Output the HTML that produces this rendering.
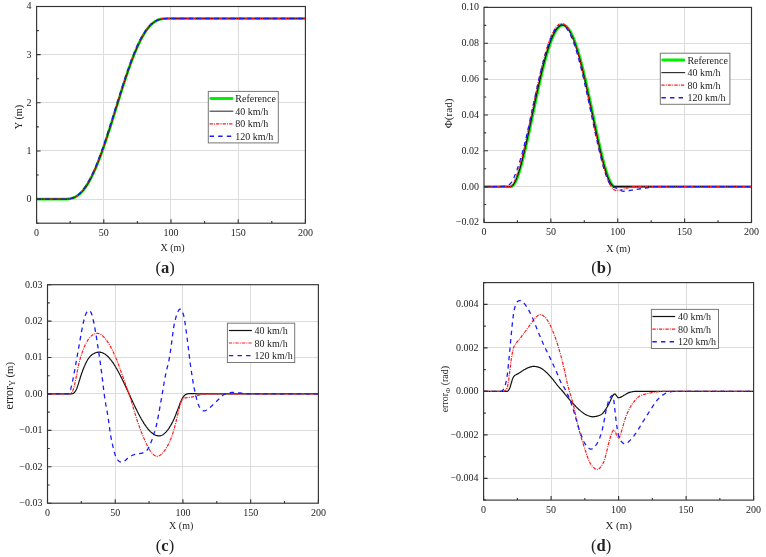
<!DOCTYPE html>
<html><head><meta charset="utf-8"><style>
html,body{margin:0;padding:0;background:#fff;}
body{width:766px;height:557px;overflow:hidden;}
svg{display:block;font-family:"Liberation Serif", serif;fill:#222;will-change:transform;}
svg text{fill:#222;}
</style></head><body>
<svg width="766" height="557" viewBox="0 0 766 557">
<rect width="766" height="557" fill="#fff"/>
<path d="M103.50,6.50V223.20M170.50,6.50V223.20M238.50,6.50V223.20M36.60,199.50H305.40M36.60,150.50H305.40M36.60,102.50H305.40M36.60,54.50H305.40" stroke="#dcdcdc" stroke-width="1" fill="none"/>
<path d="M36.6,199.1 L37.1,199.1 L37.7,199.1 L38.2,199.1 L38.8,199.1 L39.3,199.1 L39.8,199.1 L40.4,199.1 L40.9,199.1 L41.4,199.1 L42.0,199.1 L42.5,199.1 L43.1,199.1 L43.6,199.1 L44.1,199.1 L44.7,199.1 L45.2,199.1 L45.8,199.1 L46.3,199.1 L46.8,199.1 L47.4,199.1 L47.9,199.1 L48.5,199.1 L49.0,199.1 L49.5,199.1 L50.1,199.1 L50.6,199.1 L51.1,199.1 L51.7,199.1 L52.2,199.1 L52.8,199.1 L53.3,199.1 L53.8,199.1 L54.4,199.1 L54.9,199.1 L55.5,199.1 L56.0,199.1 L56.5,199.1 L57.1,199.1 L57.6,199.1 L58.1,199.1 L58.7,199.1 L59.2,199.1 L59.8,199.1 L60.3,199.1 L60.8,199.1 L61.4,199.1 L61.9,199.1 L62.5,199.1 L63.0,199.1 L63.5,199.1 L64.1,199.1 L64.6,199.1 L65.1,199.1 L65.7,199.1 L66.2,199.1 L66.8,199.1 L67.3,199.0 L67.8,199.0 L68.4,199.0 L68.9,198.9 L69.5,198.8 L70.0,198.7 L70.5,198.6 L71.1,198.5 L71.6,198.4 L72.2,198.2 L72.7,198.1 L73.2,197.9 L73.8,197.7 L74.3,197.4 L74.8,197.2 L75.4,196.9 L75.9,196.6 L76.5,196.3 L77.0,196.0 L77.5,195.6 L78.1,195.2 L78.6,194.8 L79.2,194.4 L79.7,193.9 L80.2,193.4 L80.8,192.9 L81.3,192.3 L81.8,191.8 L82.4,191.2 L82.9,190.6 L83.5,189.9 L84.0,189.2 L84.5,188.5 L85.1,187.8 L85.6,187.0 L86.2,186.3 L86.7,185.4 L87.2,184.6 L87.8,183.7 L88.3,182.8 L88.9,181.9 L89.4,181.0 L89.9,180.0 L90.5,179.0 L91.0,178.0 L91.5,176.9 L92.1,175.8 L92.6,174.7 L93.2,173.6 L93.7,172.4 L94.2,171.2 L94.8,170.0 L95.3,168.8 L95.9,167.5 L96.4,166.2 L96.9,164.9 L97.5,163.6 L98.0,162.3 L98.5,160.9 L99.1,159.5 L99.6,158.1 L100.2,156.7 L100.7,155.2 L101.2,153.8 L101.8,152.3 L102.3,150.8 L102.9,149.2 L103.4,147.7 L103.9,146.1 L104.5,144.6 L105.0,143.0 L105.6,141.4 L106.1,139.8 L106.6,138.1 L107.2,136.5 L107.7,134.9 L108.2,133.2 L108.8,131.5 L109.3,129.8 L109.9,128.2 L110.4,126.5 L110.9,124.8 L111.5,123.0 L112.0,121.3 L112.6,119.6 L113.1,117.9 L113.6,116.1 L114.2,114.4 L114.7,112.7 L115.2,110.9 L115.8,109.2 L116.3,107.4 L116.9,105.7 L117.4,104.0 L117.9,102.2 L118.5,100.5 L119.0,98.8 L119.6,97.0 L120.1,95.3 L120.6,93.6 L121.2,91.9 L121.7,90.2 L122.2,88.5 L122.8,86.8 L123.3,85.1 L123.9,83.5 L124.4,81.8 L124.9,80.2 L125.5,78.6 L126.0,76.9 L126.6,75.3 L127.1,73.7 L127.6,72.2 L128.2,70.6 L128.7,69.1 L129.3,67.5 L129.8,66.0 L130.3,64.5 L130.9,63.0 L131.4,61.6 L131.9,60.1 L132.5,58.7 L133.0,57.3 L133.6,55.9 L134.1,54.6 L134.6,53.3 L135.2,51.9 L135.7,50.7 L136.3,49.4 L136.8,48.1 L137.3,46.9 L137.9,45.7 L138.4,44.6 L138.9,43.4 L139.5,42.3 L140.0,41.2 L140.6,40.1 L141.1,39.1 L141.6,38.1 L142.2,37.1 L142.7,36.1 L143.3,35.2 L143.8,34.3 L144.3,33.4 L144.9,32.6 L145.4,31.7 L146.0,30.9 L146.5,30.2 L147.0,29.4 L147.6,28.7 L148.1,28.0 L148.6,27.4 L149.2,26.7 L149.7,26.1 L150.3,25.5 L150.8,25.0 L151.3,24.5 L151.9,24.0 L152.4,23.5 L153.0,23.0 L153.5,22.6 L154.0,22.2 L154.6,21.8 L155.1,21.5 L155.6,21.2 L156.2,20.9 L156.7,20.6 L157.3,20.3 L157.8,20.1 L158.3,19.9 L158.9,19.7 L159.4,19.5 L160.0,19.3 L160.5,19.2 L161.0,19.1 L161.6,19.0 L162.1,18.9 L162.7,18.8 L163.2,18.7 L163.7,18.7 L164.3,18.6 L164.8,18.6 L165.3,18.6 L165.9,18.6 L166.4,18.5 L167.0,18.5 L167.5,18.5 L168.0,18.5 L168.6,18.5 L169.1,18.5 L169.7,18.5 L170.2,18.5 L170.7,18.5 L171.3,18.5 L171.8,18.5 L172.3,18.5 L172.9,18.5 L173.4,18.5 L174.0,18.5 L174.5,18.5 L175.0,18.5 L175.6,18.5 L176.1,18.5 L176.7,18.5 L177.2,18.5 L177.7,18.5 L178.3,18.5 L178.8,18.5 L179.3,18.5 L179.9,18.5 L180.4,18.5 L181.0,18.5 L181.5,18.5 L182.0,18.5 L182.6,18.5 L183.1,18.5 L183.7,18.5 L184.2,18.5 L184.7,18.5 L185.3,18.5 L185.8,18.5 L186.4,18.5 L186.9,18.5 L187.4,18.5 L188.0,18.5 L188.5,18.5 L189.0,18.5 L189.6,18.5 L190.1,18.5 L190.7,18.5 L191.2,18.5 L191.7,18.5 L192.3,18.5 L192.8,18.5 L193.4,18.5 L193.9,18.5 L194.4,18.5 L195.0,18.5 L195.5,18.5 L196.0,18.5 L196.6,18.5 L197.1,18.5 L197.7,18.5 L198.2,18.5 L198.7,18.5 L199.3,18.5 L199.8,18.5 L200.4,18.5 L200.9,18.5 L201.4,18.5 L202.0,18.5 L202.5,18.5 L203.1,18.5 L203.6,18.5 L204.1,18.5 L204.7,18.5 L205.2,18.5 L205.7,18.5 L206.3,18.5 L206.8,18.5 L207.4,18.5 L207.9,18.5 L208.4,18.5 L209.0,18.5 L209.5,18.5 L210.1,18.5 L210.6,18.5 L211.1,18.5 L211.7,18.5 L212.2,18.5 L212.7,18.5 L213.3,18.5 L213.8,18.5 L214.4,18.5 L214.9,18.5 L215.4,18.5 L216.0,18.5 L216.5,18.5 L217.1,18.5 L217.6,18.5 L218.1,18.5 L218.7,18.5 L219.2,18.5 L219.8,18.5 L220.3,18.5 L220.8,18.5 L221.4,18.5 L221.9,18.5 L222.4,18.5 L223.0,18.5 L223.5,18.5 L224.1,18.5 L224.6,18.5 L225.1,18.5 L225.7,18.5 L226.2,18.5 L226.8,18.5 L227.3,18.5 L227.8,18.5 L228.4,18.5 L228.9,18.5 L229.4,18.5 L230.0,18.5 L230.5,18.5 L231.1,18.5 L231.6,18.5 L232.1,18.5 L232.7,18.5 L233.2,18.5 L233.8,18.5 L234.3,18.5 L234.8,18.5 L235.4,18.5 L235.9,18.5 L236.4,18.5 L237.0,18.5 L237.5,18.5 L238.1,18.5 L238.6,18.5 L239.1,18.5 L239.7,18.5 L240.2,18.5 L240.8,18.5 L241.3,18.5 L241.8,18.5 L242.4,18.5 L242.9,18.5 L243.5,18.5 L244.0,18.5 L244.5,18.5 L245.1,18.5 L245.6,18.5 L246.1,18.5 L246.7,18.5 L247.2,18.5 L247.8,18.5 L248.3,18.5 L248.8,18.5 L249.4,18.5 L249.9,18.5 L250.5,18.5 L251.0,18.5 L251.5,18.5 L252.1,18.5 L252.6,18.5 L253.1,18.5 L253.7,18.5 L254.2,18.5 L254.8,18.5 L255.3,18.5 L255.8,18.5 L256.4,18.5 L256.9,18.5 L257.5,18.5 L258.0,18.5 L258.5,18.5 L259.1,18.5 L259.6,18.5 L260.2,18.5 L260.7,18.5 L261.2,18.5 L261.8,18.5 L262.3,18.5 L262.8,18.5 L263.4,18.5 L263.9,18.5 L264.5,18.5 L265.0,18.5 L265.5,18.5 L266.1,18.5 L266.6,18.5 L267.2,18.5 L267.7,18.5 L268.2,18.5 L268.8,18.5 L269.3,18.5 L269.8,18.5 L270.4,18.5 L270.9,18.5 L271.5,18.5 L272.0,18.5 L272.5,18.5 L273.1,18.5 L273.6,18.5 L274.2,18.5 L274.7,18.5 L275.2,18.5 L275.8,18.5 L276.3,18.5 L276.9,18.5 L277.4,18.5 L277.9,18.5 L278.5,18.5 L279.0,18.5 L279.5,18.5 L280.1,18.5 L280.6,18.5 L281.2,18.5 L281.7,18.5 L282.2,18.5 L282.8,18.5 L283.3,18.5 L283.9,18.5 L284.4,18.5 L284.9,18.5 L285.5,18.5 L286.0,18.5 L286.5,18.5 L287.1,18.5 L287.6,18.5 L288.2,18.5 L288.7,18.5 L289.2,18.5 L289.8,18.5 L290.3,18.5 L290.9,18.5 L291.4,18.5 L291.9,18.5 L292.5,18.5 L293.0,18.5 L293.5,18.5 L294.1,18.5 L294.6,18.5 L295.2,18.5 L295.7,18.5 L296.2,18.5 L296.8,18.5 L297.3,18.5 L297.9,18.5 L298.4,18.5 L298.9,18.5 L299.5,18.5 L300.0,18.5 L300.6,18.5 L301.1,18.5 L301.6,18.5 L302.2,18.5 L302.7,18.5 L303.2,18.5 L303.8,18.5 L304.3,18.5 L304.9,18.5 L305.4,18.5" stroke="#00f000" stroke-width="2.8" fill="none" stroke-linejoin="round"/>
<path d="M36.6,199.1 L37.1,199.1 L37.7,199.1 L38.2,199.1 L38.8,199.1 L39.3,199.1 L39.8,199.1 L40.4,199.1 L40.9,199.1 L41.4,199.1 L42.0,199.1 L42.5,199.1 L43.1,199.1 L43.6,199.1 L44.1,199.1 L44.7,199.1 L45.2,199.1 L45.8,199.1 L46.3,199.1 L46.8,199.1 L47.4,199.1 L47.9,199.1 L48.5,199.1 L49.0,199.1 L49.5,199.1 L50.1,199.1 L50.6,199.1 L51.1,199.1 L51.7,199.1 L52.2,199.1 L52.8,199.1 L53.3,199.1 L53.8,199.1 L54.4,199.1 L54.9,199.1 L55.5,199.1 L56.0,199.1 L56.5,199.1 L57.1,199.1 L57.6,199.1 L58.1,199.1 L58.7,199.1 L59.2,199.1 L59.8,199.1 L60.3,199.1 L60.8,199.1 L61.4,199.1 L61.9,199.1 L62.5,199.1 L63.0,199.1 L63.5,199.1 L64.1,199.1 L64.6,199.1 L65.1,199.1 L65.7,199.1 L66.2,199.1 L66.8,199.1 L67.3,199.0 L67.8,199.0 L68.4,199.0 L68.9,198.9 L69.5,198.8 L70.0,198.7 L70.5,198.6 L71.1,198.5 L71.6,198.4 L72.2,198.2 L72.7,198.1 L73.2,197.9 L73.8,197.7 L74.3,197.4 L74.8,197.2 L75.4,196.9 L75.9,196.6 L76.5,196.3 L77.0,196.0 L77.5,195.6 L78.1,195.2 L78.6,194.8 L79.2,194.4 L79.7,193.9 L80.2,193.4 L80.8,192.9 L81.3,192.3 L81.8,191.8 L82.4,191.2 L82.9,190.6 L83.5,189.9 L84.0,189.2 L84.5,188.5 L85.1,187.8 L85.6,187.0 L86.2,186.3 L86.7,185.4 L87.2,184.6 L87.8,183.7 L88.3,182.8 L88.9,181.9 L89.4,181.0 L89.9,180.0 L90.5,179.0 L91.0,178.0 L91.5,176.9 L92.1,175.8 L92.6,174.7 L93.2,173.6 L93.7,172.4 L94.2,171.2 L94.8,170.0 L95.3,168.8 L95.9,167.5 L96.4,166.2 L96.9,164.9 L97.5,163.6 L98.0,162.3 L98.5,160.9 L99.1,159.5 L99.6,158.1 L100.2,156.7 L100.7,155.2 L101.2,153.8 L101.8,152.3 L102.3,150.8 L102.9,149.2 L103.4,147.7 L103.9,146.1 L104.5,144.6 L105.0,143.0 L105.6,141.4 L106.1,139.8 L106.6,138.1 L107.2,136.5 L107.7,134.9 L108.2,133.2 L108.8,131.5 L109.3,129.8 L109.9,128.2 L110.4,126.5 L110.9,124.8 L111.5,123.0 L112.0,121.3 L112.6,119.6 L113.1,117.9 L113.6,116.1 L114.2,114.4 L114.7,112.7 L115.2,110.9 L115.8,109.2 L116.3,107.4 L116.9,105.7 L117.4,104.0 L117.9,102.2 L118.5,100.5 L119.0,98.8 L119.6,97.0 L120.1,95.3 L120.6,93.6 L121.2,91.9 L121.7,90.2 L122.2,88.5 L122.8,86.8 L123.3,85.1 L123.9,83.5 L124.4,81.8 L124.9,80.2 L125.5,78.6 L126.0,76.9 L126.6,75.3 L127.1,73.7 L127.6,72.2 L128.2,70.6 L128.7,69.1 L129.3,67.5 L129.8,66.0 L130.3,64.5 L130.9,63.0 L131.4,61.6 L131.9,60.1 L132.5,58.7 L133.0,57.3 L133.6,55.9 L134.1,54.6 L134.6,53.3 L135.2,51.9 L135.7,50.7 L136.3,49.4 L136.8,48.1 L137.3,46.9 L137.9,45.7 L138.4,44.6 L138.9,43.4 L139.5,42.3 L140.0,41.2 L140.6,40.1 L141.1,39.1 L141.6,38.1 L142.2,37.1 L142.7,36.1 L143.3,35.2 L143.8,34.3 L144.3,33.4 L144.9,32.6 L145.4,31.7 L146.0,30.9 L146.5,30.2 L147.0,29.4 L147.6,28.7 L148.1,28.0 L148.6,27.4 L149.2,26.7 L149.7,26.1 L150.3,25.5 L150.8,25.0 L151.3,24.5 L151.9,24.0 L152.4,23.5 L153.0,23.0 L153.5,22.6 L154.0,22.2 L154.6,21.8 L155.1,21.5 L155.6,21.2 L156.2,20.9 L156.7,20.6 L157.3,20.3 L157.8,20.1 L158.3,19.9 L158.9,19.7 L159.4,19.5 L160.0,19.3 L160.5,19.2 L161.0,19.1 L161.6,19.0 L162.1,18.9 L162.7,18.8 L163.2,18.7 L163.7,18.7 L164.3,18.6 L164.8,18.6 L165.3,18.6 L165.9,18.6 L166.4,18.5 L167.0,18.5 L167.5,18.5 L168.0,18.5 L168.6,18.5 L169.1,18.5 L169.7,18.5 L170.2,18.5 L170.7,18.5 L171.3,18.5 L171.8,18.5 L172.3,18.5 L172.9,18.5 L173.4,18.5 L174.0,18.5 L174.5,18.5 L175.0,18.5 L175.6,18.5 L176.1,18.5 L176.7,18.5 L177.2,18.5 L177.7,18.5 L178.3,18.5 L178.8,18.5 L179.3,18.5 L179.9,18.5 L180.4,18.5 L181.0,18.5 L181.5,18.5 L182.0,18.5 L182.6,18.5 L183.1,18.5 L183.7,18.5 L184.2,18.5 L184.7,18.5 L185.3,18.5 L185.8,18.5 L186.4,18.5 L186.9,18.5 L187.4,18.5 L188.0,18.5 L188.5,18.5 L189.0,18.5 L189.6,18.5 L190.1,18.5 L190.7,18.5 L191.2,18.5 L191.7,18.5 L192.3,18.5 L192.8,18.5 L193.4,18.5 L193.9,18.5 L194.4,18.5 L195.0,18.5 L195.5,18.5 L196.0,18.5 L196.6,18.5 L197.1,18.5 L197.7,18.5 L198.2,18.5 L198.7,18.5 L199.3,18.5 L199.8,18.5 L200.4,18.5 L200.9,18.5 L201.4,18.5 L202.0,18.5 L202.5,18.5 L203.1,18.5 L203.6,18.5 L204.1,18.5 L204.7,18.5 L205.2,18.5 L205.7,18.5 L206.3,18.5 L206.8,18.5 L207.4,18.5 L207.9,18.5 L208.4,18.5 L209.0,18.5 L209.5,18.5 L210.1,18.5 L210.6,18.5 L211.1,18.5 L211.7,18.5 L212.2,18.5 L212.7,18.5 L213.3,18.5 L213.8,18.5 L214.4,18.5 L214.9,18.5 L215.4,18.5 L216.0,18.5 L216.5,18.5 L217.1,18.5 L217.6,18.5 L218.1,18.5 L218.7,18.5 L219.2,18.5 L219.8,18.5 L220.3,18.5 L220.8,18.5 L221.4,18.5 L221.9,18.5 L222.4,18.5 L223.0,18.5 L223.5,18.5 L224.1,18.5 L224.6,18.5 L225.1,18.5 L225.7,18.5 L226.2,18.5 L226.8,18.5 L227.3,18.5 L227.8,18.5 L228.4,18.5 L228.9,18.5 L229.4,18.5 L230.0,18.5 L230.5,18.5 L231.1,18.5 L231.6,18.5 L232.1,18.5 L232.7,18.5 L233.2,18.5 L233.8,18.5 L234.3,18.5 L234.8,18.5 L235.4,18.5 L235.9,18.5 L236.4,18.5 L237.0,18.5 L237.5,18.5 L238.1,18.5 L238.6,18.5 L239.1,18.5 L239.7,18.5 L240.2,18.5 L240.8,18.5 L241.3,18.5 L241.8,18.5 L242.4,18.5 L242.9,18.5 L243.5,18.5 L244.0,18.5 L244.5,18.5 L245.1,18.5 L245.6,18.5 L246.1,18.5 L246.7,18.5 L247.2,18.5 L247.8,18.5 L248.3,18.5 L248.8,18.5 L249.4,18.5 L249.9,18.5 L250.5,18.5 L251.0,18.5 L251.5,18.5 L252.1,18.5 L252.6,18.5 L253.1,18.5 L253.7,18.5 L254.2,18.5 L254.8,18.5 L255.3,18.5 L255.8,18.5 L256.4,18.5 L256.9,18.5 L257.5,18.5 L258.0,18.5 L258.5,18.5 L259.1,18.5 L259.6,18.5 L260.2,18.5 L260.7,18.5 L261.2,18.5 L261.8,18.5 L262.3,18.5 L262.8,18.5 L263.4,18.5 L263.9,18.5 L264.5,18.5 L265.0,18.5 L265.5,18.5 L266.1,18.5 L266.6,18.5 L267.2,18.5 L267.7,18.5 L268.2,18.5 L268.8,18.5 L269.3,18.5 L269.8,18.5 L270.4,18.5 L270.9,18.5 L271.5,18.5 L272.0,18.5 L272.5,18.5 L273.1,18.5 L273.6,18.5 L274.2,18.5 L274.7,18.5 L275.2,18.5 L275.8,18.5 L276.3,18.5 L276.9,18.5 L277.4,18.5 L277.9,18.5 L278.5,18.5 L279.0,18.5 L279.5,18.5 L280.1,18.5 L280.6,18.5 L281.2,18.5 L281.7,18.5 L282.2,18.5 L282.8,18.5 L283.3,18.5 L283.9,18.5 L284.4,18.5 L284.9,18.5 L285.5,18.5 L286.0,18.5 L286.5,18.5 L287.1,18.5 L287.6,18.5 L288.2,18.5 L288.7,18.5 L289.2,18.5 L289.8,18.5 L290.3,18.5 L290.9,18.5 L291.4,18.5 L291.9,18.5 L292.5,18.5 L293.0,18.5 L293.5,18.5 L294.1,18.5 L294.6,18.5 L295.2,18.5 L295.7,18.5 L296.2,18.5 L296.8,18.5 L297.3,18.5 L297.9,18.5 L298.4,18.5 L298.9,18.5 L299.5,18.5 L300.0,18.5 L300.6,18.5 L301.1,18.5 L301.6,18.5 L302.2,18.5 L302.7,18.5 L303.2,18.5 L303.8,18.5 L304.3,18.5 L304.9,18.5 L305.4,18.5" stroke="#111" stroke-width="1.2" fill="none"/>
<path d="M36.6,199.1 L37.1,199.1 L37.7,199.1 L38.2,199.1 L38.8,199.1 L39.3,199.1 L39.8,199.1 L40.4,199.1 L40.9,199.1 L41.4,199.1 L42.0,199.1 L42.5,199.1 L43.1,199.1 L43.6,199.1 L44.1,199.1 L44.7,199.1 L45.2,199.1 L45.8,199.1 L46.3,199.1 L46.8,199.1 L47.4,199.1 L47.9,199.1 L48.5,199.1 L49.0,199.1 L49.5,199.1 L50.1,199.1 L50.6,199.1 L51.1,199.1 L51.7,199.1 L52.2,199.1 L52.8,199.1 L53.3,199.1 L53.8,199.1 L54.4,199.1 L54.9,199.1 L55.5,199.1 L56.0,199.1 L56.5,199.1 L57.1,199.1 L57.6,199.1 L58.1,199.1 L58.7,199.1 L59.2,199.1 L59.8,199.1 L60.3,199.1 L60.8,199.1 L61.4,199.1 L61.9,199.1 L62.5,199.1 L63.0,199.1 L63.5,199.1 L64.1,199.1 L64.6,199.1 L65.1,199.1 L65.7,199.1 L66.2,199.1 L66.8,199.0 L67.3,199.0 L67.8,199.0 L68.4,198.9 L68.9,198.8 L69.5,198.8 L70.0,198.7 L70.5,198.5 L71.1,198.4 L71.6,198.3 L72.2,198.1 L72.7,197.9 L73.2,197.7 L73.8,197.5 L74.3,197.2 L74.8,197.0 L75.4,196.7 L75.9,196.4 L76.5,196.0 L77.0,195.7 L77.5,195.3 L78.1,194.9 L78.6,194.5 L79.2,194.0 L79.7,193.5 L80.2,193.0 L80.8,192.5 L81.3,191.9 L81.8,191.3 L82.4,190.7 L82.9,190.1 L83.5,189.4 L84.0,188.7 L84.5,188.0 L85.1,187.2 L85.6,186.5 L86.2,185.7 L86.7,184.8 L87.2,184.0 L87.8,183.1 L88.3,182.2 L88.9,181.2 L89.4,180.2 L89.9,179.2 L90.5,178.2 L91.0,177.2 L91.5,176.1 L92.1,175.0 L92.6,173.9 L93.2,172.7 L93.7,171.5 L94.2,170.3 L94.8,169.1 L95.3,167.8 L95.9,166.6 L96.4,165.3 L96.9,164.0 L97.5,162.6 L98.0,161.3 L98.5,159.9 L99.1,158.5 L99.6,157.0 L100.2,155.6 L100.7,154.1 L101.2,152.6 L101.8,151.1 L102.3,149.6 L102.9,148.1 L103.4,146.5 L103.9,145.0 L104.5,143.4 L105.0,141.8 L105.6,140.2 L106.1,138.6 L106.6,136.9 L107.2,135.3 L107.7,133.6 L108.2,131.9 L108.8,130.3 L109.3,128.6 L109.9,126.9 L110.4,125.2 L110.9,123.5 L111.5,121.8 L112.0,120.0 L112.6,118.3 L113.1,116.6 L113.6,114.8 L114.2,113.1 L114.7,111.4 L115.2,109.6 L115.8,107.9 L116.3,106.1 L116.9,104.4 L117.4,102.7 L117.9,100.9 L118.5,99.2 L119.0,97.5 L119.6,95.8 L120.1,94.0 L120.6,92.3 L121.2,90.6 L121.7,88.9 L122.2,87.2 L122.8,85.6 L123.3,83.9 L123.9,82.2 L124.4,80.6 L124.9,79.0 L125.5,77.3 L126.0,75.7 L126.6,74.1 L127.1,72.6 L127.6,71.0 L128.2,69.4 L128.7,67.9 L129.3,66.4 L129.8,64.9 L130.3,63.4 L130.9,61.9 L131.4,60.5 L131.9,59.1 L132.5,57.7 L133.0,56.3 L133.6,54.9 L134.1,53.6 L134.6,52.3 L135.2,51.0 L135.7,49.7 L136.3,48.5 L136.8,47.2 L137.3,46.0 L137.9,44.9 L138.4,43.7 L138.9,42.6 L139.5,41.5 L140.0,40.4 L140.6,39.4 L141.1,38.3 L141.6,37.3 L142.2,36.4 L142.7,35.4 L143.3,34.5 L143.8,33.6 L144.3,32.8 L144.9,31.9 L145.4,31.1 L146.0,30.4 L146.5,29.6 L147.0,28.9 L147.6,28.2 L148.1,27.5 L148.6,26.9 L149.2,26.3 L149.7,25.7 L150.3,25.1 L150.8,24.6 L151.3,24.1 L151.9,23.6 L152.4,23.2 L153.0,22.7 L153.5,22.3 L154.0,21.9 L154.6,21.6 L155.1,21.3 L155.6,20.9 L156.2,20.7 L156.7,20.4 L157.3,20.2 L157.8,19.9 L158.3,19.7 L158.9,19.5 L159.4,19.4 L160.0,19.2 L160.5,19.1 L161.0,19.0 L161.6,18.9 L162.1,18.8 L162.7,18.7 L163.2,18.7 L163.7,18.6 L164.3,18.6 L164.8,18.6 L165.3,18.6 L165.9,18.6 L166.4,18.5 L167.0,18.5 L167.5,18.5 L168.0,18.5 L168.6,18.5 L169.1,18.5 L169.7,18.5 L170.2,18.5 L170.7,18.5 L171.3,18.5 L171.8,18.5 L172.3,18.5 L172.9,18.5 L173.4,18.5 L174.0,18.5 L174.5,18.5 L175.0,18.5 L175.6,18.5 L176.1,18.5 L176.7,18.5 L177.2,18.5 L177.7,18.5 L178.3,18.5 L178.8,18.5 L179.3,18.5 L179.9,18.5 L180.4,18.5 L181.0,18.5 L181.5,18.5 L182.0,18.5 L182.6,18.5 L183.1,18.5 L183.7,18.5 L184.2,18.5 L184.7,18.5 L185.3,18.5 L185.8,18.5 L186.4,18.5 L186.9,18.5 L187.4,18.5 L188.0,18.5 L188.5,18.5 L189.0,18.5 L189.6,18.5 L190.1,18.5 L190.7,18.5 L191.2,18.5 L191.7,18.5 L192.3,18.5 L192.8,18.5 L193.4,18.5 L193.9,18.5 L194.4,18.5 L195.0,18.5 L195.5,18.5 L196.0,18.5 L196.6,18.5 L197.1,18.5 L197.7,18.5 L198.2,18.5 L198.7,18.5 L199.3,18.5 L199.8,18.5 L200.4,18.5 L200.9,18.5 L201.4,18.5 L202.0,18.5 L202.5,18.5 L203.1,18.5 L203.6,18.5 L204.1,18.5 L204.7,18.5 L205.2,18.5 L205.7,18.5 L206.3,18.5 L206.8,18.5 L207.4,18.5 L207.9,18.5 L208.4,18.5 L209.0,18.5 L209.5,18.5 L210.1,18.5 L210.6,18.5 L211.1,18.5 L211.7,18.5 L212.2,18.5 L212.7,18.5 L213.3,18.5 L213.8,18.5 L214.4,18.5 L214.9,18.5 L215.4,18.5 L216.0,18.5 L216.5,18.5 L217.1,18.5 L217.6,18.5 L218.1,18.5 L218.7,18.5 L219.2,18.5 L219.8,18.5 L220.3,18.5 L220.8,18.5 L221.4,18.5 L221.9,18.5 L222.4,18.5 L223.0,18.5 L223.5,18.5 L224.1,18.5 L224.6,18.5 L225.1,18.5 L225.7,18.5 L226.2,18.5 L226.8,18.5 L227.3,18.5 L227.8,18.5 L228.4,18.5 L228.9,18.5 L229.4,18.5 L230.0,18.5 L230.5,18.5 L231.1,18.5 L231.6,18.5 L232.1,18.5 L232.7,18.5 L233.2,18.5 L233.8,18.5 L234.3,18.5 L234.8,18.5 L235.4,18.5 L235.9,18.5 L236.4,18.5 L237.0,18.5 L237.5,18.5 L238.1,18.5 L238.6,18.5 L239.1,18.5 L239.7,18.5 L240.2,18.5 L240.8,18.5 L241.3,18.5 L241.8,18.5 L242.4,18.5 L242.9,18.5 L243.5,18.5 L244.0,18.5 L244.5,18.5 L245.1,18.5 L245.6,18.5 L246.1,18.5 L246.7,18.5 L247.2,18.5 L247.8,18.5 L248.3,18.5 L248.8,18.5 L249.4,18.5 L249.9,18.5 L250.5,18.5 L251.0,18.5 L251.5,18.5 L252.1,18.5 L252.6,18.5 L253.1,18.5 L253.7,18.5 L254.2,18.5 L254.8,18.5 L255.3,18.5 L255.8,18.5 L256.4,18.5 L256.9,18.5 L257.5,18.5 L258.0,18.5 L258.5,18.5 L259.1,18.5 L259.6,18.5 L260.2,18.5 L260.7,18.5 L261.2,18.5 L261.8,18.5 L262.3,18.5 L262.8,18.5 L263.4,18.5 L263.9,18.5 L264.5,18.5 L265.0,18.5 L265.5,18.5 L266.1,18.5 L266.6,18.5 L267.2,18.5 L267.7,18.5 L268.2,18.5 L268.8,18.5 L269.3,18.5 L269.8,18.5 L270.4,18.5 L270.9,18.5 L271.5,18.5 L272.0,18.5 L272.5,18.5 L273.1,18.5 L273.6,18.5 L274.2,18.5 L274.7,18.5 L275.2,18.5 L275.8,18.5 L276.3,18.5 L276.9,18.5 L277.4,18.5 L277.9,18.5 L278.5,18.5 L279.0,18.5 L279.5,18.5 L280.1,18.5 L280.6,18.5 L281.2,18.5 L281.7,18.5 L282.2,18.5 L282.8,18.5 L283.3,18.5 L283.9,18.5 L284.4,18.5 L284.9,18.5 L285.5,18.5 L286.0,18.5 L286.5,18.5 L287.1,18.5 L287.6,18.5 L288.2,18.5 L288.7,18.5 L289.2,18.5 L289.8,18.5 L290.3,18.5 L290.9,18.5 L291.4,18.5 L291.9,18.5 L292.5,18.5 L293.0,18.5 L293.5,18.5 L294.1,18.5 L294.6,18.5 L295.2,18.5 L295.7,18.5 L296.2,18.5 L296.8,18.5 L297.3,18.5 L297.9,18.5 L298.4,18.5 L298.9,18.5 L299.5,18.5 L300.0,18.5 L300.6,18.5 L301.1,18.5 L301.6,18.5 L302.2,18.5 L302.7,18.5 L303.2,18.5 L303.8,18.5 L304.3,18.5 L304.9,18.5 L305.4,18.5" stroke="#ff1a1a" stroke-width="1.2" fill="none" stroke-dasharray="3.3,1.1,1.0,1.1"/>
<path d="M36.6,199.1 L37.1,199.1 L37.7,199.1 L38.2,199.1 L38.8,199.1 L39.3,199.1 L39.8,199.1 L40.4,199.1 L40.9,199.1 L41.4,199.1 L42.0,199.1 L42.5,199.1 L43.1,199.1 L43.6,199.1 L44.1,199.1 L44.7,199.1 L45.2,199.1 L45.8,199.1 L46.3,199.1 L46.8,199.1 L47.4,199.1 L47.9,199.1 L48.5,199.1 L49.0,199.1 L49.5,199.1 L50.1,199.1 L50.6,199.1 L51.1,199.1 L51.7,199.1 L52.2,199.1 L52.8,199.1 L53.3,199.1 L53.8,199.1 L54.4,199.1 L54.9,199.1 L55.5,199.1 L56.0,199.1 L56.5,199.1 L57.1,199.1 L57.6,199.1 L58.1,199.1 L58.7,199.1 L59.2,199.1 L59.8,199.1 L60.3,199.1 L60.8,199.1 L61.4,199.1 L61.9,199.1 L62.5,199.1 L63.0,199.1 L63.5,199.1 L64.1,199.1 L64.6,199.1 L65.1,199.1 L65.7,199.1 L66.2,199.1 L66.8,199.0 L67.3,199.0 L67.8,198.9 L68.4,198.9 L68.9,198.8 L69.5,198.7 L70.0,198.6 L70.5,198.5 L71.1,198.3 L71.6,198.2 L72.2,198.0 L72.7,197.8 L73.2,197.6 L73.8,197.4 L74.3,197.1 L74.8,196.8 L75.4,196.5 L75.9,196.2 L76.5,195.9 L77.0,195.5 L77.5,195.1 L78.1,194.7 L78.6,194.2 L79.2,193.8 L79.7,193.3 L80.2,192.8 L80.8,192.2 L81.3,191.6 L81.8,191.0 L82.4,190.4 L82.9,189.8 L83.5,189.1 L84.0,188.4 L84.5,187.6 L85.1,186.9 L85.6,186.1 L86.2,185.2 L86.7,184.4 L87.2,183.5 L87.8,182.6 L88.3,181.7 L88.9,180.7 L89.4,179.7 L89.9,178.7 L90.5,177.7 L91.0,176.6 L91.5,175.5 L92.1,174.4 L92.6,173.3 L93.2,172.1 L93.7,170.9 L94.2,169.7 L94.8,168.5 L95.3,167.2 L95.9,165.9 L96.4,164.6 L96.9,163.3 L97.5,161.9 L98.0,160.6 L98.5,159.2 L99.1,157.8 L99.6,156.3 L100.2,154.9 L100.7,153.4 L101.2,151.9 L101.8,150.4 L102.3,148.9 L102.9,147.3 L103.4,145.8 L103.9,144.2 L104.5,142.6 L105.0,141.0 L105.6,139.4 L106.1,137.7 L106.6,136.1 L107.2,134.4 L107.7,132.8 L108.2,131.1 L108.8,129.4 L109.3,127.7 L109.9,126.0 L110.4,124.3 L110.9,122.6 L111.5,120.9 L112.0,119.2 L112.6,117.4 L113.1,115.7 L113.6,114.0 L114.2,112.2 L114.7,110.5 L115.2,108.8 L115.8,107.0 L116.3,105.3 L116.9,103.5 L117.4,101.8 L117.9,100.1 L118.5,98.3 L119.0,96.6 L119.6,94.9 L120.1,93.2 L120.6,91.5 L121.2,89.8 L121.7,88.1 L122.2,86.4 L122.8,84.7 L123.3,83.1 L123.9,81.4 L124.4,79.8 L124.9,78.2 L125.5,76.5 L126.0,74.9 L126.6,73.3 L127.1,71.8 L127.6,70.2 L128.2,68.7 L128.7,67.1 L129.3,65.6 L129.8,64.1 L130.3,62.7 L130.9,61.2 L131.4,59.8 L131.9,58.4 L132.5,57.0 L133.0,55.6 L133.6,54.3 L134.1,52.9 L134.6,51.6 L135.2,50.3 L135.7,49.1 L136.3,47.8 L136.8,46.6 L137.3,45.4 L137.9,44.3 L138.4,43.1 L138.9,42.0 L139.5,40.9 L140.0,39.9 L140.6,38.8 L141.1,37.8 L141.6,36.9 L142.2,35.9 L142.7,35.0 L143.3,34.1 L143.8,33.2 L144.3,32.4 L144.9,31.5 L145.4,30.7 L146.0,30.0 L146.5,29.2 L147.0,28.5 L147.6,27.9 L148.1,27.2 L148.6,26.6 L149.2,26.0 L149.7,25.4 L150.3,24.9 L150.8,24.3 L151.3,23.8 L151.9,23.4 L152.4,22.9 L153.0,22.5 L153.5,22.1 L154.0,21.8 L154.6,21.4 L155.1,21.1 L155.6,20.8 L156.2,20.5 L156.7,20.3 L157.3,20.0 L157.8,19.8 L158.3,19.6 L158.9,19.5 L159.4,19.3 L160.0,19.2 L160.5,19.1 L161.0,18.9 L161.6,18.9 L162.1,18.8 L162.7,18.7 L163.2,18.7 L163.7,18.6 L164.3,18.6 L164.8,18.6 L165.3,18.6 L165.9,18.5 L166.4,18.5 L167.0,18.5 L167.5,18.5 L168.0,18.5 L168.6,18.5 L169.1,18.5 L169.7,18.5 L170.2,18.5 L170.7,18.5 L171.3,18.5 L171.8,18.5 L172.3,18.5 L172.9,18.5 L173.4,18.5 L174.0,18.5 L174.5,18.5 L175.0,18.5 L175.6,18.5 L176.1,18.5 L176.7,18.5 L177.2,18.5 L177.7,18.5 L178.3,18.5 L178.8,18.5 L179.3,18.5 L179.9,18.5 L180.4,18.5 L181.0,18.5 L181.5,18.5 L182.0,18.5 L182.6,18.5 L183.1,18.5 L183.7,18.5 L184.2,18.5 L184.7,18.5 L185.3,18.5 L185.8,18.5 L186.4,18.5 L186.9,18.5 L187.4,18.5 L188.0,18.5 L188.5,18.5 L189.0,18.5 L189.6,18.5 L190.1,18.5 L190.7,18.5 L191.2,18.5 L191.7,18.5 L192.3,18.5 L192.8,18.5 L193.4,18.5 L193.9,18.5 L194.4,18.5 L195.0,18.5 L195.5,18.5 L196.0,18.5 L196.6,18.5 L197.1,18.5 L197.7,18.5 L198.2,18.5 L198.7,18.5 L199.3,18.5 L199.8,18.5 L200.4,18.5 L200.9,18.5 L201.4,18.5 L202.0,18.5 L202.5,18.5 L203.1,18.5 L203.6,18.5 L204.1,18.5 L204.7,18.5 L205.2,18.5 L205.7,18.5 L206.3,18.5 L206.8,18.5 L207.4,18.5 L207.9,18.5 L208.4,18.5 L209.0,18.5 L209.5,18.5 L210.1,18.5 L210.6,18.5 L211.1,18.5 L211.7,18.5 L212.2,18.5 L212.7,18.5 L213.3,18.5 L213.8,18.5 L214.4,18.5 L214.9,18.5 L215.4,18.5 L216.0,18.5 L216.5,18.5 L217.1,18.5 L217.6,18.5 L218.1,18.5 L218.7,18.5 L219.2,18.5 L219.8,18.5 L220.3,18.5 L220.8,18.5 L221.4,18.5 L221.9,18.5 L222.4,18.5 L223.0,18.5 L223.5,18.5 L224.1,18.5 L224.6,18.5 L225.1,18.5 L225.7,18.5 L226.2,18.5 L226.8,18.5 L227.3,18.5 L227.8,18.5 L228.4,18.5 L228.9,18.5 L229.4,18.5 L230.0,18.5 L230.5,18.5 L231.1,18.5 L231.6,18.5 L232.1,18.5 L232.7,18.5 L233.2,18.5 L233.8,18.5 L234.3,18.5 L234.8,18.5 L235.4,18.5 L235.9,18.5 L236.4,18.5 L237.0,18.5 L237.5,18.5 L238.1,18.5 L238.6,18.5 L239.1,18.5 L239.7,18.5 L240.2,18.5 L240.8,18.5 L241.3,18.5 L241.8,18.5 L242.4,18.5 L242.9,18.5 L243.5,18.5 L244.0,18.5 L244.5,18.5 L245.1,18.5 L245.6,18.5 L246.1,18.5 L246.7,18.5 L247.2,18.5 L247.8,18.5 L248.3,18.5 L248.8,18.5 L249.4,18.5 L249.9,18.5 L250.5,18.5 L251.0,18.5 L251.5,18.5 L252.1,18.5 L252.6,18.5 L253.1,18.5 L253.7,18.5 L254.2,18.5 L254.8,18.5 L255.3,18.5 L255.8,18.5 L256.4,18.5 L256.9,18.5 L257.5,18.5 L258.0,18.5 L258.5,18.5 L259.1,18.5 L259.6,18.5 L260.2,18.5 L260.7,18.5 L261.2,18.5 L261.8,18.5 L262.3,18.5 L262.8,18.5 L263.4,18.5 L263.9,18.5 L264.5,18.5 L265.0,18.5 L265.5,18.5 L266.1,18.5 L266.6,18.5 L267.2,18.5 L267.7,18.5 L268.2,18.5 L268.8,18.5 L269.3,18.5 L269.8,18.5 L270.4,18.5 L270.9,18.5 L271.5,18.5 L272.0,18.5 L272.5,18.5 L273.1,18.5 L273.6,18.5 L274.2,18.5 L274.7,18.5 L275.2,18.5 L275.8,18.5 L276.3,18.5 L276.9,18.5 L277.4,18.5 L277.9,18.5 L278.5,18.5 L279.0,18.5 L279.5,18.5 L280.1,18.5 L280.6,18.5 L281.2,18.5 L281.7,18.5 L282.2,18.5 L282.8,18.5 L283.3,18.5 L283.9,18.5 L284.4,18.5 L284.9,18.5 L285.5,18.5 L286.0,18.5 L286.5,18.5 L287.1,18.5 L287.6,18.5 L288.2,18.5 L288.7,18.5 L289.2,18.5 L289.8,18.5 L290.3,18.5 L290.9,18.5 L291.4,18.5 L291.9,18.5 L292.5,18.5 L293.0,18.5 L293.5,18.5 L294.1,18.5 L294.6,18.5 L295.2,18.5 L295.7,18.5 L296.2,18.5 L296.8,18.5 L297.3,18.5 L297.9,18.5 L298.4,18.5 L298.9,18.5 L299.5,18.5 L300.0,18.5 L300.6,18.5 L301.1,18.5 L301.6,18.5 L302.2,18.5 L302.7,18.5 L303.2,18.5 L303.8,18.5 L304.3,18.5 L304.9,18.5 L305.4,18.5" stroke="#1a1aff" stroke-width="1.3" fill="none" stroke-dasharray="4.4,4.0"/>
<path d="M36.60,223.20v-4M103.80,223.20v-4M171.00,223.20v-4M238.20,223.20v-4M305.40,223.20v-4M70.20,223.20v-2.2M137.40,223.20v-2.2M204.60,223.20v-2.2M271.80,223.20v-2.2M36.60,199.12h4M36.60,150.97h4M36.60,102.81h4M36.60,54.66h4M36.60,6.50h4M36.60,223.20h2.2M36.60,175.04h2.2M36.60,126.89h2.2M36.60,78.73h2.2M36.60,30.58h2.2" stroke="#333" stroke-width="1.1" fill="none"/>
<rect x="36.60" y="6.50" width="268.80" height="216.70" stroke="#333" stroke-width="1.15" fill="none"/>
<text x="36.60" y="236.00" font-size="10" text-anchor="middle" >0</text>
<text x="103.80" y="236.00" font-size="10" text-anchor="middle" >50</text>
<text x="171.00" y="236.00" font-size="10" text-anchor="middle" >100</text>
<text x="238.20" y="236.00" font-size="10" text-anchor="middle" >150</text>
<text x="305.40" y="236.00" font-size="10" text-anchor="middle" >200</text>
<text x="31.60" y="202.02" font-size="10" text-anchor="end" >0</text>
<text x="31.60" y="153.87" font-size="10" text-anchor="end" >1</text>
<text x="31.60" y="105.71" font-size="10" text-anchor="end" >2</text>
<text x="31.60" y="57.56" font-size="10" text-anchor="end" >3</text>
<text x="31.60" y="9.40" font-size="10" text-anchor="end" >4</text>
<rect x="208.30" y="91.40" width="70.00" height="51.50" fill="#fff" stroke="#777" stroke-width="1"/>
<path d="M210.90,98.50H232.00" stroke="#00f000" stroke-width="2.9" stroke-linecap="round" fill="none"/>
<text x="235.30" y="102.00" font-size="10" text-anchor="start" >Reference</text>
<path d="M209.60,111.20H233.30" stroke="#444" stroke-width="1.2" fill="none"/>
<text x="235.30" y="114.70" font-size="10" text-anchor="start" >40 km/h</text>
<path d="M209.60,123.80H233.30" stroke="#ff1a1a" stroke-width="1.2" fill="none" stroke-dasharray="3.3,1.1,1.0,1.1"/>
<text x="235.30" y="127.30" font-size="10" text-anchor="start" >80 km/h</text>
<path d="M209.60,136.30h21.6" stroke="#1a1aff" stroke-width="1.4" stroke-dasharray="4.4,4.2" fill="none"/>
<text x="235.30" y="139.80" font-size="10" text-anchor="start" >120 km/h</text>
<path d="M550.50,7.40V222.50M617.50,7.40V222.50M684.50,7.40V222.50M484.00,186.50H751.50M484.00,150.50H751.50M484.00,114.50H751.50M484.00,79.50H751.50M484.00,43.50H751.50" stroke="#dcdcdc" stroke-width="1" fill="none"/>
<path d="M484.0,186.7 L484.5,186.7 L485.1,186.7 L485.6,186.7 L486.1,186.7 L486.7,186.7 L487.2,186.7 L487.8,186.7 L488.3,186.7 L488.8,186.7 L489.4,186.7 L489.9,186.7 L490.4,186.7 L491.0,186.7 L491.5,186.7 L492.0,186.7 L492.6,186.7 L493.1,186.7 L493.6,186.7 L494.2,186.7 L494.7,186.7 L495.3,186.7 L495.8,186.7 L496.3,186.7 L496.9,186.7 L497.4,186.7 L497.9,186.7 L498.5,186.7 L499.0,186.7 L499.5,186.7 L500.1,186.7 L500.6,186.7 L501.2,186.7 L501.7,186.7 L502.2,186.7 L502.8,186.7 L503.3,186.7 L503.8,186.7 L504.4,186.7 L504.9,186.7 L505.4,186.7 L506.0,186.7 L506.5,186.7 L507.1,186.7 L507.6,186.7 L508.1,186.7 L508.7,186.7 L509.2,186.7 L509.7,186.7 L510.3,186.7 L510.8,186.6 L511.3,186.6 L511.9,186.4 L512.4,186.0 L512.9,185.6 L513.5,185.0 L514.0,184.3 L514.6,183.5 L515.1,182.5 L515.6,181.5 L516.2,180.4 L516.7,179.2 L517.2,177.9 L517.8,176.5 L518.3,175.0 L518.8,173.4 L519.4,171.8 L519.9,170.0 L520.5,168.3 L521.0,166.4 L521.5,164.5 L522.1,162.5 L522.6,160.5 L523.1,158.4 L523.7,156.2 L524.2,154.0 L524.7,151.8 L525.3,149.5 L525.8,147.2 L526.3,144.8 L526.9,142.5 L527.4,140.0 L528.0,137.6 L528.5,135.1 L529.0,132.7 L529.6,130.2 L530.1,127.6 L530.6,125.1 L531.2,122.6 L531.7,120.0 L532.2,117.5 L532.8,114.9 L533.3,112.3 L533.9,109.8 L534.4,107.2 L534.9,104.7 L535.5,102.2 L536.0,99.6 L536.5,97.1 L537.1,94.6 L537.6,92.2 L538.1,89.7 L538.7,87.3 L539.2,84.9 L539.8,82.5 L540.3,80.1 L540.8,77.8 L541.4,75.5 L541.9,73.3 L542.4,71.0 L543.0,68.9 L543.5,66.7 L544.0,64.6 L544.6,62.5 L545.1,60.5 L545.6,58.5 L546.2,56.6 L546.7,54.7 L547.3,52.9 L547.8,51.1 L548.3,49.3 L548.9,47.7 L549.4,46.0 L549.9,44.4 L550.5,42.9 L551.0,41.5 L551.5,40.0 L552.1,38.7 L552.6,37.4 L553.2,36.2 L553.7,35.0 L554.2,33.9 L554.8,32.9 L555.3,31.9 L555.8,31.0 L556.4,30.1 L556.9,29.3 L557.4,28.6 L558.0,27.9 L558.5,27.4 L559.1,26.8 L559.6,26.4 L560.1,26.0 L560.7,25.7 L561.2,25.4 L561.7,25.2 L562.3,25.1 L562.8,25.1 L563.3,25.1 L563.9,25.2 L564.4,25.3 L564.9,25.6 L565.5,25.9 L566.0,26.2 L566.6,26.6 L567.1,27.1 L567.6,27.7 L568.2,28.3 L568.7,29.0 L569.2,29.8 L569.8,30.6 L570.3,31.5 L570.8,32.5 L571.4,33.5 L571.9,34.6 L572.5,35.7 L573.0,36.9 L573.5,38.2 L574.1,39.5 L574.6,40.9 L575.1,42.3 L575.7,43.8 L576.2,45.4 L576.7,47.0 L577.3,48.6 L577.8,50.4 L578.3,52.1 L578.9,53.9 L579.4,55.8 L580.0,57.7 L580.5,59.7 L581.0,61.7 L581.6,63.7 L582.1,65.8 L582.6,68.0 L583.2,70.1 L583.7,72.4 L584.2,74.6 L584.8,76.9 L585.3,79.2 L585.9,81.5 L586.4,83.9 L586.9,86.3 L587.5,88.7 L588.0,91.2 L588.5,93.6 L589.1,96.1 L589.6,98.6 L590.1,101.1 L590.7,103.7 L591.2,106.2 L591.8,108.7 L592.3,111.3 L592.8,113.9 L593.4,116.4 L593.9,119.0 L594.4,121.5 L595.0,124.1 L595.5,126.6 L596.0,129.1 L596.6,131.6 L597.1,134.1 L597.6,136.6 L598.2,139.0 L598.7,141.5 L599.3,143.9 L599.8,146.2 L600.3,148.6 L600.9,150.9 L601.4,153.1 L601.9,155.3 L602.5,157.5 L603.0,159.6 L603.5,161.7 L604.1,163.7 L604.6,165.6 L605.2,167.5 L605.7,169.3 L606.2,171.1 L606.8,172.7 L607.3,174.3 L607.8,175.9 L608.4,177.3 L608.9,178.6 L609.4,179.9 L610.0,181.1 L610.5,182.1 L611.0,183.1 L611.6,183.9 L612.1,184.7 L612.7,185.3 L613.2,185.8 L613.7,186.2 L614.3,186.5 L614.8,186.6 L615.3,186.7 L615.9,186.7 L616.4,186.7 L616.9,186.7 L617.5,186.7 L618.0,186.7 L618.6,186.7 L619.1,186.7 L619.6,186.7 L620.2,186.7 L620.7,186.7 L621.2,186.7 L621.8,186.7 L622.3,186.7 L622.8,186.7 L623.4,186.7 L623.9,186.7 L624.5,186.7 L625.0,186.7 L625.5,186.7 L626.1,186.7 L626.6,186.7 L627.1,186.7 L627.7,186.7 L628.2,186.7 L628.7,186.7 L629.3,186.7 L629.8,186.7 L630.3,186.7 L630.9,186.7 L631.4,186.7 L632.0,186.7 L632.5,186.7 L633.0,186.7 L633.6,186.7 L634.1,186.7 L634.6,186.7 L635.2,186.7 L635.7,186.7 L636.2,186.7 L636.8,186.7 L637.3,186.7 L637.9,186.7 L638.4,186.7 L638.9,186.7 L639.5,186.7 L640.0,186.7 L640.5,186.7 L641.1,186.7 L641.6,186.7 L642.1,186.7 L642.7,186.7 L643.2,186.7 L643.7,186.7 L644.3,186.7 L644.8,186.7 L645.4,186.7 L645.9,186.7 L646.4,186.7 L647.0,186.7 L647.5,186.7 L648.0,186.7 L648.6,186.7 L649.1,186.7 L649.6,186.7 L650.2,186.7 L650.7,186.7 L651.3,186.7 L651.8,186.7 L652.3,186.7 L652.9,186.7 L653.4,186.7 L653.9,186.7 L654.5,186.7 L655.0,186.7 L655.5,186.7 L656.1,186.7 L656.6,186.7 L657.2,186.7 L657.7,186.7 L658.2,186.7 L658.8,186.7 L659.3,186.7 L659.8,186.7 L660.4,186.7 L660.9,186.7 L661.4,186.7 L662.0,186.7 L662.5,186.7 L663.0,186.7 L663.6,186.7 L664.1,186.7 L664.7,186.7 L665.2,186.7 L665.7,186.7 L666.3,186.7 L666.8,186.7 L667.3,186.7 L667.9,186.7 L668.4,186.7 L668.9,186.7 L669.5,186.7 L670.0,186.7 L670.6,186.7 L671.1,186.7 L671.6,186.7 L672.2,186.7 L672.7,186.7 L673.2,186.7 L673.8,186.7 L674.3,186.7 L674.8,186.7 L675.4,186.7 L675.9,186.7 L676.4,186.7 L677.0,186.7 L677.5,186.7 L678.1,186.7 L678.6,186.7 L679.1,186.7 L679.7,186.7 L680.2,186.7 L680.7,186.7 L681.3,186.7 L681.8,186.7 L682.3,186.7 L682.9,186.7 L683.4,186.7 L684.0,186.7 L684.5,186.7 L685.0,186.7 L685.6,186.7 L686.1,186.7 L686.6,186.7 L687.2,186.7 L687.7,186.7 L688.2,186.7 L688.8,186.7 L689.3,186.7 L689.9,186.7 L690.4,186.7 L690.9,186.7 L691.5,186.7 L692.0,186.7 L692.5,186.7 L693.1,186.7 L693.6,186.7 L694.1,186.7 L694.7,186.7 L695.2,186.7 L695.7,186.7 L696.3,186.7 L696.8,186.7 L697.4,186.7 L697.9,186.7 L698.4,186.7 L699.0,186.7 L699.5,186.7 L700.0,186.7 L700.6,186.7 L701.1,186.7 L701.6,186.7 L702.2,186.7 L702.7,186.7 L703.3,186.7 L703.8,186.7 L704.3,186.7 L704.9,186.7 L705.4,186.7 L705.9,186.7 L706.5,186.7 L707.0,186.7 L707.5,186.7 L708.1,186.7 L708.6,186.7 L709.2,186.7 L709.7,186.7 L710.2,186.7 L710.8,186.7 L711.3,186.7 L711.8,186.7 L712.4,186.7 L712.9,186.7 L713.4,186.7 L714.0,186.7 L714.5,186.7 L715.0,186.7 L715.6,186.7 L716.1,186.7 L716.7,186.7 L717.2,186.7 L717.7,186.7 L718.3,186.7 L718.8,186.7 L719.3,186.7 L719.9,186.7 L720.4,186.7 L720.9,186.7 L721.5,186.7 L722.0,186.7 L722.6,186.7 L723.1,186.7 L723.6,186.7 L724.2,186.7 L724.7,186.7 L725.2,186.7 L725.8,186.7 L726.3,186.7 L726.8,186.7 L727.4,186.7 L727.9,186.7 L728.4,186.7 L729.0,186.7 L729.5,186.7 L730.1,186.7 L730.6,186.7 L731.1,186.7 L731.7,186.7 L732.2,186.7 L732.7,186.7 L733.3,186.7 L733.8,186.7 L734.3,186.7 L734.9,186.7 L735.4,186.7 L736.0,186.7 L736.5,186.7 L737.0,186.7 L737.6,186.7 L738.1,186.7 L738.6,186.7 L739.2,186.7 L739.7,186.7 L740.2,186.7 L740.8,186.7 L741.3,186.7 L741.9,186.7 L742.4,186.7 L742.9,186.7 L743.5,186.7 L744.0,186.7 L744.5,186.7 L745.1,186.7 L745.6,186.7 L746.1,186.7 L746.7,186.7 L747.2,186.7 L747.7,186.7 L748.3,186.7 L748.8,186.7 L749.4,186.7 L749.9,186.7 L750.4,186.7 L751.0,186.7 L751.5,186.7" stroke="#00f000" stroke-width="2.8" fill="none" stroke-linejoin="round"/>
<path d="M484.0,186.7 L484.5,186.7 L485.1,186.7 L485.6,186.7 L486.1,186.7 L486.7,186.7 L487.2,186.7 L487.8,186.7 L488.3,186.7 L488.8,186.7 L489.4,186.7 L489.9,186.7 L490.4,186.7 L491.0,186.7 L491.5,186.7 L492.0,186.7 L492.6,186.7 L493.1,186.7 L493.6,186.7 L494.2,186.7 L494.7,186.7 L495.3,186.7 L495.8,186.7 L496.3,186.7 L496.9,186.7 L497.4,186.7 L497.9,186.7 L498.5,186.7 L499.0,186.7 L499.5,186.7 L500.1,186.7 L500.6,186.7 L501.2,186.7 L501.7,186.7 L502.2,186.7 L502.8,186.7 L503.3,186.7 L503.8,186.7 L504.4,186.7 L504.9,186.7 L505.4,186.7 L506.0,186.7 L506.5,186.7 L507.1,186.7 L507.6,186.7 L508.1,186.7 L508.7,186.7 L509.2,186.7 L509.7,186.7 L510.3,186.6 L510.8,186.6 L511.3,186.4 L511.9,186.0 L512.4,185.6 L512.9,185.0 L513.5,184.3 L514.0,183.5 L514.6,182.5 L515.1,181.5 L515.6,180.4 L516.2,179.2 L516.7,177.9 L517.2,176.5 L517.8,175.0 L518.3,173.4 L518.8,171.8 L519.4,170.0 L519.9,168.3 L520.5,166.4 L521.0,164.5 L521.5,162.5 L522.1,160.5 L522.6,158.4 L523.1,156.2 L523.7,154.0 L524.2,151.8 L524.7,149.5 L525.3,147.2 L525.8,144.8 L526.3,142.5 L526.9,140.0 L527.4,137.6 L528.0,135.1 L528.5,132.7 L529.0,130.2 L529.6,127.6 L530.1,125.1 L530.6,122.6 L531.2,120.0 L531.7,117.5 L532.2,114.9 L532.8,112.4 L533.3,109.8 L533.9,107.2 L534.4,104.7 L534.9,102.2 L535.5,99.7 L536.0,97.1 L536.5,94.7 L537.1,92.2 L537.6,89.7 L538.1,87.3 L538.7,84.9 L539.2,82.5 L539.8,80.1 L540.3,77.8 L540.8,75.5 L541.4,73.3 L541.9,71.1 L542.4,68.9 L543.0,66.7 L543.5,64.6 L544.0,62.5 L544.6,60.5 L545.1,58.5 L545.6,56.6 L546.2,54.7 L546.7,52.9 L547.3,51.1 L547.8,49.3 L548.3,47.7 L548.9,46.0 L549.4,44.4 L549.9,42.9 L550.5,41.5 L551.0,40.1 L551.5,38.7 L552.1,37.4 L552.6,36.2 L553.2,35.0 L553.7,33.9 L554.2,32.9 L554.8,31.9 L555.3,31.0 L555.8,30.1 L556.4,29.3 L556.9,28.6 L557.4,27.9 L558.0,27.4 L558.5,26.8 L559.1,26.4 L559.6,26.0 L560.1,25.7 L560.7,25.4 L561.2,25.2 L561.7,25.1 L562.3,25.1 L562.8,25.1 L563.3,25.2 L563.9,25.3 L564.4,25.6 L564.9,25.8 L565.5,26.2 L566.0,26.6 L566.6,27.1 L567.1,27.7 L567.6,28.3 L568.2,29.0 L568.7,29.8 L569.2,30.6 L569.8,31.5 L570.3,32.4 L570.8,33.5 L571.4,34.5 L571.9,35.7 L572.5,36.9 L573.0,38.2 L573.5,39.5 L574.1,40.9 L574.6,42.3 L575.1,43.8 L575.7,45.4 L576.2,47.0 L576.7,48.6 L577.3,50.4 L577.8,52.1 L578.3,53.9 L578.9,55.8 L579.4,57.7 L580.0,59.7 L580.5,61.7 L581.0,63.7 L581.6,65.8 L582.1,68.0 L582.6,70.1 L583.2,72.3 L583.7,74.6 L584.2,76.9 L584.8,79.2 L585.3,81.5 L585.9,83.9 L586.4,86.3 L586.9,88.7 L587.5,91.2 L588.0,93.6 L588.5,96.1 L589.1,98.6 L589.6,101.1 L590.1,103.7 L590.7,106.2 L591.2,108.7 L591.8,111.3 L592.3,113.8 L592.8,116.4 L593.4,119.0 L593.9,121.5 L594.4,124.1 L595.0,126.6 L595.5,129.1 L596.0,131.6 L596.6,134.1 L597.1,136.6 L597.6,139.0 L598.2,141.5 L598.7,143.9 L599.3,146.2 L599.8,148.6 L600.3,150.9 L600.9,153.1 L601.4,155.3 L601.9,157.5 L602.5,159.6 L603.0,161.7 L603.5,163.7 L604.1,165.6 L604.6,167.5 L605.2,169.3 L605.7,171.1 L606.2,172.7 L606.8,174.3 L607.3,175.9 L607.8,177.3 L608.4,178.6 L608.9,179.9 L609.4,181.1 L610.0,182.1 L610.5,183.1 L611.0,183.9 L611.6,184.7 L612.1,185.3 L612.7,185.8 L613.2,186.2 L613.7,186.5 L614.3,186.6 L614.8,186.7 L615.3,186.7 L615.9,186.7 L616.4,186.7 L616.9,186.7 L617.5,186.7 L618.0,186.7 L618.6,186.7 L619.1,186.7 L619.6,186.7 L620.2,186.7 L620.7,186.7 L621.2,186.7 L621.8,186.7 L622.3,186.7 L622.8,186.7 L623.4,186.7 L623.9,186.7 L624.5,186.7 L625.0,186.7 L625.5,186.7 L626.1,186.7 L626.6,186.7 L627.1,186.7 L627.7,186.7 L628.2,186.7 L628.7,186.7 L629.3,186.7 L629.8,186.7 L630.3,186.7 L630.9,186.7 L631.4,186.7 L632.0,186.7 L632.5,186.7 L633.0,186.7 L633.6,186.7 L634.1,186.7 L634.6,186.7 L635.2,186.7 L635.7,186.7 L636.2,186.7 L636.8,186.7 L637.3,186.7 L637.9,186.7 L638.4,186.7 L638.9,186.7 L639.5,186.7 L640.0,186.7 L640.5,186.7 L641.1,186.7 L641.6,186.7 L642.1,186.7 L642.7,186.7 L643.2,186.7 L643.7,186.7 L644.3,186.7 L644.8,186.7 L645.4,186.7 L645.9,186.7 L646.4,186.7 L647.0,186.7 L647.5,186.7 L648.0,186.7 L648.6,186.7 L649.1,186.7 L649.6,186.7 L650.2,186.7 L650.7,186.7 L651.3,186.7 L651.8,186.7 L652.3,186.7 L652.9,186.7 L653.4,186.7 L653.9,186.7 L654.5,186.7 L655.0,186.7 L655.5,186.7 L656.1,186.7 L656.6,186.7 L657.2,186.7 L657.7,186.7 L658.2,186.7 L658.8,186.7 L659.3,186.7 L659.8,186.7 L660.4,186.7 L660.9,186.7 L661.4,186.7 L662.0,186.7 L662.5,186.7 L663.0,186.7 L663.6,186.7 L664.1,186.7 L664.7,186.7 L665.2,186.7 L665.7,186.7 L666.3,186.7 L666.8,186.7 L667.3,186.7 L667.9,186.7 L668.4,186.7 L668.9,186.7 L669.5,186.7 L670.0,186.7 L670.6,186.7 L671.1,186.7 L671.6,186.7 L672.2,186.7 L672.7,186.7 L673.2,186.7 L673.8,186.7 L674.3,186.7 L674.8,186.7 L675.4,186.7 L675.9,186.7 L676.4,186.7 L677.0,186.7 L677.5,186.7 L678.1,186.7 L678.6,186.7 L679.1,186.7 L679.7,186.7 L680.2,186.7 L680.7,186.7 L681.3,186.7 L681.8,186.7 L682.3,186.7 L682.9,186.7 L683.4,186.7 L684.0,186.7 L684.5,186.7 L685.0,186.7 L685.6,186.7 L686.1,186.7 L686.6,186.7 L687.2,186.7 L687.7,186.7 L688.2,186.7 L688.8,186.7 L689.3,186.7 L689.9,186.7 L690.4,186.7 L690.9,186.7 L691.5,186.7 L692.0,186.7 L692.5,186.7 L693.1,186.7 L693.6,186.7 L694.1,186.7 L694.7,186.7 L695.2,186.7 L695.7,186.7 L696.3,186.7 L696.8,186.7 L697.4,186.7 L697.9,186.7 L698.4,186.7 L699.0,186.7 L699.5,186.7 L700.0,186.7 L700.6,186.7 L701.1,186.7 L701.6,186.7 L702.2,186.7 L702.7,186.7 L703.3,186.7 L703.8,186.7 L704.3,186.7 L704.9,186.7 L705.4,186.7 L705.9,186.7 L706.5,186.7 L707.0,186.7 L707.5,186.7 L708.1,186.7 L708.6,186.7 L709.2,186.7 L709.7,186.7 L710.2,186.7 L710.8,186.7 L711.3,186.7 L711.8,186.7 L712.4,186.7 L712.9,186.7 L713.4,186.7 L714.0,186.7 L714.5,186.7 L715.0,186.7 L715.6,186.7 L716.1,186.7 L716.7,186.7 L717.2,186.7 L717.7,186.7 L718.3,186.7 L718.8,186.7 L719.3,186.7 L719.9,186.7 L720.4,186.7 L720.9,186.7 L721.5,186.7 L722.0,186.7 L722.6,186.7 L723.1,186.7 L723.6,186.7 L724.2,186.7 L724.7,186.7 L725.2,186.7 L725.8,186.7 L726.3,186.7 L726.8,186.7 L727.4,186.7 L727.9,186.7 L728.4,186.7 L729.0,186.7 L729.5,186.7 L730.1,186.7 L730.6,186.7 L731.1,186.7 L731.7,186.7 L732.2,186.7 L732.7,186.7 L733.3,186.7 L733.8,186.7 L734.3,186.7 L734.9,186.7 L735.4,186.7 L736.0,186.7 L736.5,186.7 L737.0,186.7 L737.6,186.7 L738.1,186.7 L738.6,186.7 L739.2,186.7 L739.7,186.7 L740.2,186.7 L740.8,186.7 L741.3,186.7 L741.9,186.7 L742.4,186.7 L742.9,186.7 L743.5,186.7 L744.0,186.7 L744.5,186.7 L745.1,186.7 L745.6,186.7 L746.1,186.7 L746.7,186.7 L747.2,186.7 L747.7,186.7 L748.3,186.7 L748.8,186.7 L749.4,186.7 L749.9,186.7 L750.4,186.7 L751.0,186.7 L751.5,186.7" stroke="#111" stroke-width="1.2" fill="none"/>
<path d="M484.0,186.7 L484.3,186.7 L484.5,186.7 L484.8,186.7 L485.1,186.7 L485.3,186.7 L485.6,186.7 L485.9,186.7 L486.1,186.7 L486.4,186.7 L486.7,186.7 L486.9,186.7 L487.2,186.7 L487.5,186.7 L487.7,186.7 L488.0,186.7 L488.3,186.7 L488.5,186.7 L488.8,186.7 L489.1,186.7 L489.4,186.7 L489.6,186.7 L489.9,186.7 L490.2,186.7 L490.4,186.7 L490.7,186.7 L491.0,186.7 L491.2,186.7 L491.5,186.7 L491.8,186.7 L492.0,186.7 L492.3,186.7 L492.6,186.7 L492.8,186.7 L493.1,186.7 L493.4,186.7 L493.6,186.7 L493.9,186.7 L494.2,186.7 L494.4,186.7 L494.7,186.7 L495.0,186.7 L495.2,186.7 L495.5,186.7 L495.8,186.7 L496.0,186.7 L496.3,186.7 L496.6,186.7 L496.8,186.7 L497.1,186.7 L497.4,186.7 L497.6,186.7 L497.9,186.7 L498.2,186.7 L498.4,186.7 L498.7,186.7 L499.0,186.7 L499.2,186.7 L499.5,186.7 L499.8,186.7 L500.1,186.7 L500.3,186.7 L500.6,186.7 L500.9,186.7 L501.1,186.7 L501.4,186.7 L501.7,186.7 L501.9,186.7 L502.2,186.7 L502.5,186.7 L502.7,186.7 L503.0,186.7 L503.3,186.7 L503.5,186.7 L503.8,186.7 L504.1,186.7 L504.3,186.7 L504.6,186.7 L504.9,186.7 L505.1,186.7 L505.4,186.7 L505.7,186.7 L505.9,186.7 L506.2,186.7 L506.5,186.7 L506.7,186.7 L507.0,186.7 L507.3,186.7 L507.5,186.7 L507.8,186.7 L508.1,186.7 L508.3,186.7 L508.6,186.7 L508.9,186.7 L509.1,186.7 L509.4,186.7 L509.7,186.6 L509.9,186.6 L510.2,186.5 L510.5,186.4 L510.8,186.2 L511.0,186.1 L511.3,185.8 L511.6,185.6 L511.8,185.3 L512.1,185.0 L512.4,184.7 L512.6,184.3 L512.9,183.9 L513.2,183.5 L513.4,183.1 L513.7,182.6 L514.0,182.1 L514.2,181.6 L514.5,181.0 L514.8,180.5 L515.0,179.9 L515.3,179.3 L515.6,178.6 L515.8,177.9 L516.1,177.3 L516.4,176.5 L516.6,175.8 L516.9,175.1 L517.2,174.3 L517.4,173.5 L517.7,172.7 L518.0,171.8 L518.2,171.0 L518.5,170.1 L518.8,169.2 L519.0,168.3 L519.3,167.4 L519.6,166.5 L519.8,165.5 L520.1,164.5 L520.4,163.5 L520.6,162.5 L520.9,161.5 L521.2,160.5 L521.5,159.4 L521.7,158.4 L522.0,157.3 L522.3,156.2 L522.5,155.1 L522.8,154.0 L523.1,152.9 L523.3,151.8 L523.6,150.6 L523.9,149.5 L524.1,148.3 L524.4,147.2 L524.7,146.0 L524.9,144.8 L525.2,143.6 L525.5,142.4 L525.7,141.2 L526.0,140.0 L526.3,138.7 L526.5,137.5 L526.8,136.3 L527.1,135.0 L527.3,133.8 L527.6,132.5 L527.9,131.3 L528.1,130.0 L528.4,128.8 L528.7,127.5 L528.9,126.2 L529.2,124.9 L529.5,123.7 L529.7,122.4 L530.0,121.1 L530.3,119.8 L530.5,118.5 L530.8,117.2 L531.1,115.9 L531.3,114.7 L531.6,113.4 L531.9,112.1 L532.1,110.8 L532.4,109.5 L532.7,108.2 L533.0,106.9 L533.2,105.6 L533.5,104.4 L533.8,103.1 L534.0,101.8 L534.3,100.5 L534.6,99.3 L534.8,98.0 L535.1,96.7 L535.4,95.5 L535.6,94.2 L535.9,93.0 L536.2,91.7 L536.4,90.5 L536.7,89.2 L537.0,88.0 L537.2,86.8 L537.5,85.6 L537.8,84.4 L538.0,83.2 L538.3,82.0 L538.6,80.8 L538.8,79.6 L539.1,78.4 L539.4,77.2 L539.6,76.1 L539.9,74.9 L540.2,73.8 L540.4,72.6 L540.7,71.5 L541.0,70.4 L541.2,69.3 L541.5,68.2 L541.8,67.1 L542.0,66.0 L542.3,64.9 L542.6,63.9 L542.9,62.8 L543.1,61.8 L543.4,60.7 L543.7,59.7 L543.9,58.7 L544.2,57.7 L544.5,56.7 L544.7,55.7 L545.0,54.8 L545.3,53.8 L545.5,52.9 L545.8,52.0 L546.1,51.0 L546.3,50.1 L546.6,49.3 L546.9,48.4 L547.1,47.5 L547.4,46.7 L547.7,45.8 L547.9,45.0 L548.2,44.2 L548.5,43.4 L548.7,42.6 L549.0,41.9 L549.3,41.1 L549.5,40.4 L549.8,39.6 L550.1,38.9 L550.3,38.2 L550.6,37.6 L550.9,36.9 L551.1,36.2 L551.4,35.6 L551.7,35.0 L551.9,34.4 L552.2,33.8 L552.5,33.2 L552.7,32.7 L553.0,32.1 L553.3,31.6 L553.5,31.1 L553.8,30.6 L554.1,30.1 L554.4,29.6 L554.6,29.2 L554.9,28.8 L555.2,28.4 L555.4,28.0 L555.7,27.6 L556.0,27.2 L556.2,26.9 L556.5,26.5 L556.8,26.2 L557.0,25.9 L557.3,25.6 L557.6,25.4 L557.8,25.1 L558.1,24.9 L558.4,24.7 L558.6,24.5 L558.9,24.3 L559.2,24.1 L559.4,24.0 L559.7,23.9 L560.0,23.8 L560.2,23.7 L560.5,23.6 L560.8,23.5 L561.0,23.5 L561.3,23.5 L561.6,23.5 L561.8,23.5 L562.1,23.5 L562.4,23.5 L562.6,23.6 L562.9,23.7 L563.2,23.8 L563.4,23.9 L563.7,24.0 L564.0,24.1 L564.2,24.3 L564.5,24.5 L564.8,24.7 L565.1,24.9 L565.3,25.1 L565.6,25.4 L565.9,25.6 L566.1,25.9 L566.4,26.2 L566.7,26.5 L566.9,26.9 L567.2,27.2 L567.5,27.6 L567.7,28.0 L568.0,28.4 L568.3,28.8 L568.5,29.2 L568.8,29.6 L569.1,30.1 L569.3,30.6 L569.6,31.1 L569.9,31.6 L570.1,32.1 L570.4,32.7 L570.7,33.2 L570.9,33.8 L571.2,34.4 L571.5,35.0 L571.7,35.6 L572.0,36.2 L572.3,36.9 L572.5,37.6 L572.8,38.2 L573.1,38.9 L573.3,39.6 L573.6,40.4 L573.9,41.1 L574.1,41.9 L574.4,42.6 L574.7,43.4 L575.0,44.2 L575.2,45.0 L575.5,45.8 L575.8,46.7 L576.0,47.5 L576.3,48.4 L576.6,49.3 L576.8,50.1 L577.1,51.0 L577.4,52.0 L577.6,52.9 L577.9,53.8 L578.2,54.8 L578.4,55.7 L578.7,56.7 L579.0,57.7 L579.2,58.7 L579.5,59.7 L579.8,60.7 L580.0,61.8 L580.3,62.8 L580.6,63.9 L580.8,64.9 L581.1,66.0 L581.4,67.1 L581.6,68.2 L581.9,69.3 L582.2,70.4 L582.4,71.5 L582.7,72.6 L583.0,73.8 L583.2,74.9 L583.5,76.1 L583.8,77.2 L584.0,78.4 L584.3,79.6 L584.6,80.8 L584.8,82.0 L585.1,83.2 L585.4,84.4 L585.6,85.6 L585.9,86.8 L586.2,88.0 L586.5,89.2 L586.7,90.5 L587.0,91.7 L587.3,93.0 L587.5,94.2 L587.8,95.5 L588.1,96.7 L588.3,98.0 L588.6,99.3 L588.9,100.5 L589.1,101.8 L589.4,103.1 L589.7,104.4 L589.9,105.6 L590.2,106.9 L590.5,108.2 L590.7,109.5 L591.0,110.8 L591.3,112.1 L591.5,113.4 L591.8,114.7 L592.1,115.9 L592.3,117.2 L592.6,118.5 L592.9,119.8 L593.1,121.1 L593.4,122.4 L593.7,123.7 L593.9,124.9 L594.2,126.2 L594.5,127.5 L594.7,128.8 L595.0,130.0 L595.3,131.3 L595.5,132.5 L595.8,133.8 L596.1,135.0 L596.4,136.3 L596.6,137.5 L596.9,138.7 L597.2,140.0 L597.4,141.2 L597.7,142.4 L598.0,143.6 L598.2,144.8 L598.5,146.0 L598.8,147.2 L599.0,148.3 L599.3,149.5 L599.6,150.6 L599.8,151.8 L600.1,152.9 L600.4,154.0 L600.6,155.1 L600.9,156.2 L601.2,157.3 L601.4,158.4 L601.7,159.4 L602.0,160.5 L602.2,161.5 L602.5,162.5 L602.8,163.5 L603.0,164.5 L603.3,165.5 L603.6,166.5 L603.8,167.4 L604.1,168.3 L604.4,169.2 L604.6,170.1 L604.9,171.0 L605.2,171.9 L605.4,172.7 L605.7,173.6 L606.0,174.4 L606.2,175.2 L606.5,175.9 L606.8,176.7 L607.0,177.4 L607.3,178.2 L607.6,178.9 L607.9,179.5 L608.1,180.2 L608.4,180.9 L608.7,181.5 L608.9,182.1 L609.2,182.7 L609.5,183.3 L609.7,183.9 L610.0,184.4 L610.3,184.9 L610.5,185.5 L610.8,185.9 L611.1,186.4 L611.3,186.8 L611.6,187.3 L611.9,187.7 L612.1,188.0 L612.4,188.4 L612.7,188.7 L612.9,189.0 L613.2,189.2 L613.5,189.4 L613.7,189.6 L614.0,189.7 L614.3,189.9 L614.5,190.0 L614.8,190.1 L615.1,190.2 L615.3,190.3 L615.6,190.3 L615.9,190.4 L616.1,190.4 L616.4,190.4 L616.7,190.4 L616.9,190.4 L617.2,190.4 L617.5,190.4 L617.8,190.4 L618.0,190.3 L618.3,190.3 L618.6,190.3 L618.8,190.2 L619.1,190.2 L619.4,190.2 L619.6,190.1 L619.9,190.1 L620.2,190.0 L620.4,190.0 L620.7,189.9 L621.0,189.9 L621.2,189.8 L621.5,189.7 L621.8,189.7 L622.0,189.6 L622.3,189.5 L622.6,189.5 L622.8,189.4 L623.1,189.3 L623.4,189.2 L623.6,189.2 L623.9,189.1 L624.2,189.0 L624.4,188.9 L624.7,188.9 L625.0,188.8 L625.2,188.7 L625.5,188.6 L625.8,188.5 L626.0,188.5 L626.3,188.4 L626.6,188.3 L626.8,188.2 L627.1,188.1 L627.4,188.1 L627.6,188.0 L627.9,187.9 L628.2,187.8 L628.5,187.7 L628.7,187.7 L629.0,187.6 L629.3,187.5 L629.5,187.5 L629.8,187.4 L630.1,187.3 L630.3,187.3 L630.6,187.2 L630.9,187.2 L631.1,187.1 L631.4,187.0 L631.7,187.0 L631.9,186.9 L632.2,186.9 L632.5,186.9 L632.7,186.8 L633.0,186.8 L633.3,186.8 L633.5,186.7 L633.8,186.7 L634.1,186.7 L634.3,186.7 L634.6,186.7 L634.9,186.7 L635.1,186.7 L635.4,186.7 L635.7,186.7 L635.9,186.7 L636.2,186.7 L636.5,186.7 L636.7,186.7 L637.0,186.7 L637.3,186.7 L637.5,186.7 L637.8,186.7 L638.1,186.7 L638.3,186.7 L638.6,186.7 L638.9,186.7 L639.1,186.7 L639.4,186.7 L639.7,186.7 L640.0,186.7 L640.2,186.7 L640.5,186.7 L640.8,186.7 L641.0,186.7 L641.3,186.7 L641.6,186.7 L641.8,186.7 L642.1,186.7 L642.4,186.7 L642.6,186.7 L642.9,186.7 L643.2,186.7 L643.4,186.7 L643.7,186.7 L644.0,186.7 L644.2,186.7 L644.5,186.7 L644.8,186.7 L645.0,186.7 L645.3,186.7 L645.6,186.7 L645.8,186.7 L646.1,186.7 L646.4,186.7 L646.6,186.7 L646.9,186.7 L647.2,186.7 L647.4,186.7 L647.7,186.7 L648.0,186.7 L648.2,186.7 L648.5,186.7 L648.8,186.7 L649.0,186.7 L649.3,186.7 L649.6,186.7 L649.9,186.7 L650.1,186.7 L650.4,186.7 L650.7,186.7 L650.9,186.7 L651.2,186.7 L651.5,186.7 L651.7,186.7 L652.0,186.7 L652.3,186.7 L652.5,186.7 L652.8,186.7 L653.1,186.7 L653.3,186.7 L653.6,186.7 L653.9,186.7 L654.1,186.7 L654.4,186.7 L654.7,186.7 L654.9,186.7 L655.2,186.7 L655.5,186.7 L655.7,186.7 L656.0,186.7 L656.3,186.7 L656.5,186.7 L656.8,186.7 L657.1,186.7 L657.3,186.7 L657.6,186.7 L657.9,186.7 L658.1,186.7 L658.4,186.7 L658.7,186.7 L658.9,186.7 L659.2,186.7 L659.5,186.7 L659.7,186.7 L660.0,186.7 L660.3,186.7 L660.5,186.7 L660.8,186.7 L661.1,186.7 L661.4,186.7 L661.6,186.7 L661.9,186.7 L662.2,186.7 L662.4,186.7 L662.7,186.7 L663.0,186.7 L663.2,186.7 L663.5,186.7 L663.8,186.7 L664.0,186.7 L664.3,186.7 L664.6,186.7 L664.8,186.7 L665.1,186.7 L665.4,186.7 L665.6,186.7 L665.9,186.7 L666.2,186.7 L666.4,186.7 L666.7,186.7 L667.0,186.7 L667.2,186.7 L667.5,186.7 L667.8,186.7 L668.0,186.7 L668.3,186.7 L668.6,186.7 L668.8,186.7 L669.1,186.7 L669.4,186.7 L669.6,186.7 L669.9,186.7 L670.2,186.7 L670.4,186.7 L670.7,186.7 L671.0,186.7 L671.2,186.7 L671.5,186.7 L671.8,186.7 L672.1,186.7 L672.3,186.7 L672.6,186.7 L672.9,186.7 L673.1,186.7 L673.4,186.7 L673.7,186.7 L673.9,186.7 L674.2,186.7 L674.5,186.7 L674.7,186.7 L675.0,186.7 L675.3,186.7 L675.5,186.7 L675.8,186.7 L676.1,186.7 L676.3,186.7 L676.6,186.7 L676.9,186.7 L677.1,186.7 L677.4,186.7 L677.7,186.7 L677.9,186.7 L678.2,186.7 L678.5,186.7 L678.7,186.7 L679.0,186.7 L679.3,186.7 L679.5,186.7 L679.8,186.7 L680.1,186.7 L680.3,186.7 L680.6,186.7 L680.9,186.7 L681.1,186.7 L681.4,186.7 L681.7,186.7 L682.0,186.7 L682.2,186.7 L682.5,186.7 L682.8,186.7 L683.0,186.7 L683.3,186.7 L683.6,186.7 L683.8,186.7 L684.1,186.7 L684.4,186.7 L684.6,186.7 L684.9,186.7 L685.2,186.7 L685.4,186.7 L685.7,186.7 L686.0,186.7 L686.2,186.7 L686.5,186.7 L686.8,186.7 L687.0,186.7 L687.3,186.7 L687.6,186.7 L687.8,186.7 L688.1,186.7 L688.4,186.7 L688.6,186.7 L688.9,186.7 L689.2,186.7 L689.4,186.7 L689.7,186.7 L690.0,186.7 L690.2,186.7 L690.5,186.7 L690.8,186.7 L691.0,186.7 L691.3,186.7 L691.6,186.7 L691.8,186.7 L692.1,186.7 L692.4,186.7 L692.6,186.7 L692.9,186.7 L693.2,186.7 L693.5,186.7 L693.7,186.7 L694.0,186.7 L694.3,186.7 L694.5,186.7 L694.8,186.7 L695.1,186.7 L695.3,186.7 L695.6,186.7 L695.9,186.7 L696.1,186.7 L696.4,186.7 L696.7,186.7 L696.9,186.7 L697.2,186.7 L697.5,186.7 L697.7,186.7 L698.0,186.7 L698.3,186.7 L698.5,186.7 L698.8,186.7 L699.1,186.7 L699.3,186.7 L699.6,186.7 L699.9,186.7 L700.1,186.7 L700.4,186.7 L700.7,186.7 L700.9,186.7 L701.2,186.7 L701.5,186.7 L701.7,186.7 L702.0,186.7 L702.3,186.7 L702.5,186.7 L702.8,186.7 L703.1,186.7 L703.4,186.7 L703.6,186.7 L703.9,186.7 L704.2,186.7 L704.4,186.7 L704.7,186.7 L705.0,186.7 L705.2,186.7 L705.5,186.7 L705.8,186.7 L706.0,186.7 L706.3,186.7 L706.6,186.7 L706.8,186.7 L707.1,186.7 L707.4,186.7 L707.6,186.7 L707.9,186.7 L708.2,186.7 L708.4,186.7 L708.7,186.7 L709.0,186.7 L709.2,186.7 L709.5,186.7 L709.8,186.7 L710.0,186.7 L710.3,186.7 L710.6,186.7 L710.8,186.7 L711.1,186.7 L711.4,186.7 L711.6,186.7 L711.9,186.7 L712.2,186.7 L712.4,186.7 L712.7,186.7 L713.0,186.7 L713.2,186.7 L713.5,186.7 L713.8,186.7 L714.0,186.7 L714.3,186.7 L714.6,186.7 L714.9,186.7 L715.1,186.7 L715.4,186.7 L715.7,186.7 L715.9,186.7 L716.2,186.7 L716.5,186.7 L716.7,186.7 L717.0,186.7 L717.3,186.7 L717.5,186.7 L717.8,186.7 L718.1,186.7 L718.3,186.7 L718.6,186.7 L718.9,186.7 L719.1,186.7 L719.4,186.7 L719.7,186.7 L719.9,186.7 L720.2,186.7 L720.5,186.7 L720.7,186.7 L721.0,186.7 L721.3,186.7 L721.5,186.7 L721.8,186.7 L722.1,186.7 L722.3,186.7 L722.6,186.7 L722.9,186.7 L723.1,186.7 L723.4,186.7 L723.7,186.7 L723.9,186.7 L724.2,186.7 L724.5,186.7 L724.8,186.7 L725.0,186.7 L725.3,186.7 L725.6,186.7 L725.8,186.7 L726.1,186.7 L726.4,186.7 L726.6,186.7 L726.9,186.7 L727.2,186.7 L727.4,186.7 L727.7,186.7 L728.0,186.7 L728.2,186.7 L728.5,186.7 L728.8,186.7 L729.0,186.7 L729.3,186.7 L729.6,186.7 L729.8,186.7 L730.1,186.7 L730.4,186.7 L730.6,186.7 L730.9,186.7 L731.2,186.7 L731.4,186.7 L731.7,186.7 L732.0,186.7 L732.2,186.7 L732.5,186.7 L732.8,186.7 L733.0,186.7 L733.3,186.7 L733.6,186.7 L733.8,186.7 L734.1,186.7 L734.4,186.7 L734.6,186.7 L734.9,186.7 L735.2,186.7 L735.5,186.7 L735.7,186.7 L736.0,186.7 L736.3,186.7 L736.5,186.7 L736.8,186.7 L737.1,186.7 L737.3,186.7 L737.6,186.7 L737.9,186.7 L738.1,186.7 L738.4,186.7 L738.7,186.7 L738.9,186.7 L739.2,186.7 L739.5,186.7 L739.7,186.7 L740.0,186.7 L740.3,186.7 L740.5,186.7 L740.8,186.7 L741.1,186.7 L741.3,186.7 L741.6,186.7 L741.9,186.7 L742.1,186.7 L742.4,186.7 L742.7,186.7 L742.9,186.7 L743.2,186.7 L743.5,186.7 L743.7,186.7 L744.0,186.7 L744.3,186.7 L744.5,186.7 L744.8,186.7 L745.1,186.7 L745.3,186.7 L745.6,186.7 L745.9,186.7 L746.1,186.7 L746.4,186.7 L746.7,186.7 L747.0,186.7 L747.2,186.7 L747.5,186.7 L747.8,186.7 L748.0,186.7 L748.3,186.7 L748.6,186.7 L748.8,186.7 L749.1,186.7 L749.4,186.7 L749.6,186.7 L749.9,186.7 L750.2,186.7 L750.4,186.7 L750.7,186.7 L751.0,186.7 L751.2,186.7 L751.5,186.7" stroke="#ff1a1a" stroke-width="1.2" fill="none" stroke-dasharray="3.3,1.1,1.0,1.1"/>
<path d="M484.0,186.6 L484.3,186.6 L484.5,186.6 L484.8,186.6 L485.1,186.6 L485.3,186.6 L485.6,186.6 L485.9,186.6 L486.1,186.6 L486.4,186.6 L486.7,186.6 L486.9,186.6 L487.2,186.6 L487.5,186.6 L487.7,186.6 L488.0,186.6 L488.3,186.6 L488.5,186.6 L488.8,186.6 L489.1,186.6 L489.4,186.6 L489.6,186.6 L489.9,186.6 L490.2,186.6 L490.4,186.6 L490.7,186.6 L491.0,186.6 L491.2,186.6 L491.5,186.6 L491.8,186.6 L492.0,186.6 L492.3,186.6 L492.6,186.6 L492.8,186.6 L493.1,186.6 L493.4,186.6 L493.6,186.6 L493.9,186.6 L494.2,186.6 L494.4,186.6 L494.7,186.6 L495.0,186.6 L495.2,186.6 L495.5,186.6 L495.8,186.6 L496.0,186.6 L496.3,186.6 L496.6,186.6 L496.8,186.6 L497.1,186.6 L497.4,186.6 L497.6,186.6 L497.9,186.6 L498.2,186.6 L498.4,186.6 L498.7,186.6 L499.0,186.6 L499.2,186.6 L499.5,186.6 L499.8,186.6 L500.1,186.6 L500.3,186.6 L500.6,186.5 L500.9,186.5 L501.1,186.5 L501.4,186.5 L501.7,186.5 L501.9,186.5 L502.2,186.4 L502.5,186.4 L502.7,186.4 L503.0,186.3 L503.3,186.3 L503.5,186.3 L503.8,186.2 L504.1,186.2 L504.3,186.1 L504.6,186.1 L504.9,186.0 L505.1,186.0 L505.4,185.9 L505.7,185.8 L505.9,185.7 L506.2,185.7 L506.5,185.6 L506.7,185.5 L507.0,185.4 L507.3,185.3 L507.5,185.2 L507.8,185.1 L508.1,185.0 L508.3,184.9 L508.6,184.8 L508.9,184.7 L509.1,184.5 L509.4,184.4 L509.7,184.2 L509.9,184.0 L510.2,183.8 L510.5,183.5 L510.8,183.2 L511.0,182.8 L511.3,182.5 L511.6,182.1 L511.8,181.7 L512.1,181.2 L512.4,180.7 L512.6,180.3 L512.9,179.7 L513.2,179.2 L513.4,178.6 L513.7,178.1 L514.0,177.5 L514.2,176.9 L514.5,176.2 L514.8,175.6 L515.0,174.9 L515.3,174.3 L515.6,173.6 L515.8,172.9 L516.1,172.2 L516.4,171.4 L516.6,170.7 L516.9,170.0 L517.2,169.2 L517.4,168.5 L517.7,167.7 L518.0,166.9 L518.2,166.1 L518.5,165.3 L518.8,164.5 L519.0,163.7 L519.3,162.8 L519.6,162.0 L519.8,161.1 L520.1,160.3 L520.4,159.4 L520.6,158.5 L520.9,157.6 L521.2,156.7 L521.5,155.8 L521.7,154.9 L522.0,153.9 L522.3,153.0 L522.5,152.0 L522.8,151.0 L523.1,150.0 L523.3,149.0 L523.6,148.0 L523.9,147.0 L524.1,145.9 L524.4,144.8 L524.7,143.8 L524.9,142.7 L525.2,141.6 L525.5,140.5 L525.7,139.4 L526.0,138.2 L526.3,137.1 L526.5,136.0 L526.8,134.8 L527.1,133.6 L527.3,132.4 L527.6,131.3 L527.9,130.1 L528.1,128.9 L528.4,127.6 L528.7,126.4 L528.9,125.2 L529.2,124.0 L529.5,122.7 L529.7,121.5 L530.0,120.2 L530.3,119.0 L530.5,117.7 L530.8,116.5 L531.1,115.2 L531.3,114.0 L531.6,112.7 L531.9,111.4 L532.1,110.2 L532.4,108.9 L532.7,107.7 L533.0,106.4 L533.2,105.1 L533.5,103.9 L533.8,102.6 L534.0,101.4 L534.3,100.1 L534.6,98.9 L534.8,97.6 L535.1,96.4 L535.4,95.1 L535.6,93.9 L535.9,92.7 L536.2,91.4 L536.4,90.2 L536.7,89.0 L537.0,87.8 L537.2,86.6 L537.5,85.4 L537.8,84.2 L538.0,83.0 L538.3,81.8 L538.6,80.6 L538.8,79.5 L539.1,78.3 L539.4,77.2 L539.6,76.0 L539.9,74.9 L540.2,73.8 L540.4,72.6 L540.7,71.5 L541.0,70.4 L541.2,69.3 L541.5,68.3 L541.8,67.2 L542.0,66.1 L542.3,65.1 L542.6,64.0 L542.9,63.0 L543.1,62.0 L543.4,61.0 L543.7,60.0 L543.9,59.0 L544.2,58.0 L544.5,57.0 L544.7,56.1 L545.0,55.1 L545.3,54.2 L545.5,53.3 L545.8,52.4 L546.1,51.5 L546.3,50.6 L546.6,49.8 L546.9,48.9 L547.1,48.1 L547.4,47.2 L547.7,46.4 L547.9,45.6 L548.2,44.8 L548.5,44.1 L548.7,43.3 L549.0,42.5 L549.3,41.8 L549.5,41.1 L549.8,40.4 L550.1,39.7 L550.3,39.0 L550.6,38.4 L550.9,37.7 L551.1,37.1 L551.4,36.5 L551.7,35.9 L551.9,35.3 L552.2,34.7 L552.5,34.2 L552.7,33.7 L553.0,33.1 L553.3,32.6 L553.5,32.1 L553.8,31.7 L554.1,31.2 L554.4,30.8 L554.6,30.3 L554.9,29.9 L555.2,29.5 L555.4,29.2 L555.7,28.8 L556.0,28.4 L556.2,28.1 L556.5,27.8 L556.8,27.5 L557.0,27.2 L557.3,27.0 L557.6,26.7 L557.8,26.5 L558.1,26.3 L558.4,26.1 L558.6,25.9 L558.9,25.8 L559.2,25.6 L559.4,25.5 L559.7,25.4 L560.0,25.3 L560.2,25.2 L560.5,25.1 L560.8,25.1 L561.0,25.1 L561.3,25.1 L561.6,25.1 L561.8,25.1 L562.1,25.1 L562.4,25.2 L562.6,25.3 L562.9,25.4 L563.2,25.5 L563.4,25.6 L563.7,25.8 L564.0,25.9 L564.2,26.1 L564.5,26.3 L564.8,26.5 L565.1,26.7 L565.3,27.0 L565.6,27.2 L565.9,27.5 L566.1,27.8 L566.4,28.1 L566.7,28.4 L566.9,28.8 L567.2,29.2 L567.5,29.5 L567.7,29.9 L568.0,30.3 L568.3,30.8 L568.5,31.2 L568.8,31.7 L569.1,32.1 L569.3,32.6 L569.6,33.1 L569.9,33.7 L570.1,34.2 L570.4,34.7 L570.7,35.3 L570.9,35.9 L571.2,36.5 L571.5,37.1 L571.7,37.7 L572.0,38.4 L572.3,39.0 L572.5,39.7 L572.8,40.4 L573.1,41.1 L573.3,41.8 L573.6,42.5 L573.9,43.3 L574.1,44.1 L574.4,44.8 L574.7,45.6 L575.0,46.4 L575.2,47.2 L575.5,48.1 L575.8,48.9 L576.0,49.8 L576.3,50.6 L576.6,51.5 L576.8,52.4 L577.1,53.3 L577.4,54.2 L577.6,55.1 L577.9,56.1 L578.2,57.0 L578.4,58.0 L578.7,59.0 L579.0,60.0 L579.2,61.0 L579.5,62.0 L579.8,63.0 L580.0,64.0 L580.3,65.1 L580.6,66.1 L580.8,67.2 L581.1,68.3 L581.4,69.3 L581.6,70.4 L581.9,71.5 L582.2,72.6 L582.4,73.8 L582.7,74.9 L583.0,76.0 L583.2,77.2 L583.5,78.3 L583.8,79.5 L584.0,80.6 L584.3,81.8 L584.6,83.0 L584.8,84.2 L585.1,85.4 L585.4,86.6 L585.6,87.8 L585.9,89.0 L586.2,90.2 L586.5,91.4 L586.7,92.7 L587.0,93.9 L587.3,95.1 L587.5,96.4 L587.8,97.6 L588.1,98.9 L588.3,100.1 L588.6,101.4 L588.9,102.7 L589.1,103.9 L589.4,105.2 L589.7,106.5 L589.9,107.7 L590.2,109.0 L590.5,110.3 L590.7,111.5 L591.0,112.8 L591.3,114.1 L591.5,115.4 L591.8,116.6 L592.1,117.9 L592.3,119.2 L592.6,120.5 L592.9,121.7 L593.1,123.0 L593.4,124.3 L593.7,125.5 L593.9,126.8 L594.2,128.1 L594.5,129.3 L594.7,130.6 L595.0,131.8 L595.3,133.1 L595.5,134.3 L595.8,135.5 L596.1,136.8 L596.4,138.0 L596.6,139.2 L596.9,140.4 L597.2,141.6 L597.4,142.8 L597.7,144.0 L598.0,145.2 L598.2,146.4 L598.5,147.6 L598.8,148.7 L599.0,149.9 L599.3,151.0 L599.6,152.1 L599.8,153.2 L600.1,154.4 L600.4,155.4 L600.6,156.5 L600.9,157.6 L601.2,158.7 L601.4,159.7 L601.7,160.7 L602.0,161.8 L602.2,162.8 L602.5,163.8 L602.8,164.7 L603.0,165.7 L603.3,166.7 L603.6,167.6 L603.8,168.5 L604.1,169.4 L604.4,170.3 L604.6,171.1 L604.9,172.0 L605.2,172.8 L605.4,173.6 L605.7,174.4 L606.0,175.2 L606.2,175.9 L606.5,176.7 L606.8,177.4 L607.0,178.0 L607.3,178.7 L607.6,179.4 L607.9,180.0 L608.1,180.6 L608.4,181.1 L608.7,181.7 L608.9,182.2 L609.2,182.7 L609.5,183.2 L609.7,183.7 L610.0,184.1 L610.3,184.5 L610.5,184.9 L610.8,185.2 L611.1,185.5 L611.3,185.8 L611.6,186.1 L611.9,186.4 L612.1,186.6 L612.4,186.8 L612.7,186.9 L612.9,187.1 L613.2,187.2 L613.5,187.2 L613.7,187.3 L614.0,187.4 L614.3,187.5 L614.5,187.5 L614.8,187.6 L615.1,187.7 L615.3,187.8 L615.6,187.9 L615.9,188.0 L616.1,188.1 L616.4,188.2 L616.7,188.4 L616.9,188.5 L617.2,188.6 L617.5,188.8 L617.8,188.9 L618.0,189.0 L618.3,189.2 L618.6,189.3 L618.8,189.5 L619.1,189.6 L619.4,189.8 L619.6,189.9 L619.9,190.0 L620.2,190.2 L620.4,190.3 L620.7,190.4 L621.0,190.6 L621.2,190.7 L621.5,190.8 L621.8,190.9 L622.0,191.0 L622.3,191.1 L622.6,191.1 L622.8,191.2 L623.1,191.2 L623.4,191.3 L623.6,191.3 L623.9,191.3 L624.2,191.3 L624.4,191.2 L624.7,191.2 L625.0,191.2 L625.2,191.1 L625.5,191.1 L625.8,191.0 L626.0,191.0 L626.3,191.0 L626.6,190.9 L626.8,190.9 L627.1,190.8 L627.4,190.8 L627.6,190.8 L627.9,190.7 L628.2,190.7 L628.5,190.6 L628.7,190.6 L629.0,190.6 L629.3,190.5 L629.5,190.5 L629.8,190.4 L630.1,190.4 L630.3,190.4 L630.6,190.3 L630.9,190.3 L631.1,190.2 L631.4,190.2 L631.7,190.2 L631.9,190.1 L632.2,190.1 L632.5,190.0 L632.7,190.0 L633.0,190.0 L633.3,189.9 L633.5,189.9 L633.8,189.8 L634.1,189.8 L634.3,189.8 L634.6,189.7 L634.9,189.7 L635.1,189.6 L635.4,189.6 L635.7,189.5 L635.9,189.5 L636.2,189.5 L636.5,189.4 L636.7,189.4 L637.0,189.3 L637.3,189.3 L637.5,189.3 L637.8,189.2 L638.1,189.2 L638.3,189.1 L638.6,189.1 L638.9,189.1 L639.1,189.0 L639.4,189.0 L639.7,188.9 L640.0,188.9 L640.2,188.9 L640.5,188.8 L640.8,188.8 L641.0,188.7 L641.3,188.7 L641.6,188.7 L641.8,188.6 L642.1,188.6 L642.4,188.5 L642.6,188.5 L642.9,188.5 L643.2,188.4 L643.4,188.4 L643.7,188.3 L644.0,188.3 L644.2,188.3 L644.5,188.2 L644.8,188.2 L645.0,188.1 L645.3,188.1 L645.6,188.0 L645.8,188.0 L646.1,188.0 L646.4,187.9 L646.6,187.9 L646.9,187.8 L647.2,187.8 L647.4,187.8 L647.7,187.7 L648.0,187.7 L648.2,187.6 L648.5,187.6 L648.8,187.6 L649.0,187.5 L649.3,187.5 L649.6,187.4 L649.9,187.4 L650.1,187.4 L650.4,187.3 L650.7,187.3 L650.9,187.2 L651.2,187.2 L651.5,187.2 L651.7,187.1 L652.0,187.1 L652.3,187.0 L652.5,187.0 L652.8,187.0 L653.1,186.9 L653.3,186.9 L653.6,186.8 L653.9,186.8 L654.1,186.8 L654.4,186.7 L654.7,186.7 L654.9,186.7 L655.2,186.7 L655.5,186.7 L655.7,186.7 L656.0,186.7 L656.3,186.7 L656.5,186.7 L656.8,186.7 L657.1,186.7 L657.3,186.7 L657.6,186.7 L657.9,186.7 L658.1,186.7 L658.4,186.7 L658.7,186.7 L658.9,186.7 L659.2,186.7 L659.5,186.7 L659.7,186.7 L660.0,186.7 L660.3,186.7 L660.5,186.7 L660.8,186.7 L661.1,186.7 L661.4,186.7 L661.6,186.7 L661.9,186.7 L662.2,186.7 L662.4,186.7 L662.7,186.7 L663.0,186.7 L663.2,186.7 L663.5,186.7 L663.8,186.7 L664.0,186.7 L664.3,186.7 L664.6,186.7 L664.8,186.7 L665.1,186.7 L665.4,186.7 L665.6,186.7 L665.9,186.7 L666.2,186.7 L666.4,186.7 L666.7,186.7 L667.0,186.7 L667.2,186.7 L667.5,186.7 L667.8,186.7 L668.0,186.7 L668.3,186.7 L668.6,186.7 L668.8,186.7 L669.1,186.7 L669.4,186.7 L669.6,186.7 L669.9,186.7 L670.2,186.7 L670.4,186.7 L670.7,186.7 L671.0,186.7 L671.2,186.7 L671.5,186.7 L671.8,186.7 L672.1,186.7 L672.3,186.7 L672.6,186.7 L672.9,186.7 L673.1,186.7 L673.4,186.7 L673.7,186.7 L673.9,186.7 L674.2,186.7 L674.5,186.7 L674.7,186.7 L675.0,186.7 L675.3,186.7 L675.5,186.7 L675.8,186.7 L676.1,186.7 L676.3,186.7 L676.6,186.7 L676.9,186.7 L677.1,186.7 L677.4,186.7 L677.7,186.7 L677.9,186.7 L678.2,186.7 L678.5,186.7 L678.7,186.7 L679.0,186.7 L679.3,186.7 L679.5,186.7 L679.8,186.7 L680.1,186.7 L680.3,186.7 L680.6,186.7 L680.9,186.7 L681.1,186.7 L681.4,186.7 L681.7,186.7 L682.0,186.7 L682.2,186.7 L682.5,186.7 L682.8,186.7 L683.0,186.7 L683.3,186.7 L683.6,186.7 L683.8,186.7 L684.1,186.7 L684.4,186.7 L684.6,186.7 L684.9,186.7 L685.2,186.7 L685.4,186.7 L685.7,186.7 L686.0,186.7 L686.2,186.7 L686.5,186.7 L686.8,186.7 L687.0,186.7 L687.3,186.7 L687.6,186.7 L687.8,186.7 L688.1,186.7 L688.4,186.7 L688.6,186.7 L688.9,186.7 L689.2,186.7 L689.4,186.7 L689.7,186.7 L690.0,186.7 L690.2,186.7 L690.5,186.7 L690.8,186.7 L691.0,186.7 L691.3,186.7 L691.6,186.7 L691.8,186.7 L692.1,186.7 L692.4,186.7 L692.6,186.7 L692.9,186.7 L693.2,186.7 L693.5,186.7 L693.7,186.7 L694.0,186.7 L694.3,186.7 L694.5,186.7 L694.8,186.7 L695.1,186.7 L695.3,186.7 L695.6,186.7 L695.9,186.7 L696.1,186.7 L696.4,186.7 L696.7,186.7 L696.9,186.7 L697.2,186.7 L697.5,186.7 L697.7,186.7 L698.0,186.7 L698.3,186.7 L698.5,186.7 L698.8,186.7 L699.1,186.7 L699.3,186.7 L699.6,186.7 L699.9,186.7 L700.1,186.7 L700.4,186.7 L700.7,186.7 L700.9,186.7 L701.2,186.7 L701.5,186.7 L701.7,186.7 L702.0,186.7 L702.3,186.7 L702.5,186.7 L702.8,186.7 L703.1,186.7 L703.4,186.7 L703.6,186.7 L703.9,186.7 L704.2,186.7 L704.4,186.7 L704.7,186.7 L705.0,186.7 L705.2,186.7 L705.5,186.7 L705.8,186.7 L706.0,186.7 L706.3,186.7 L706.6,186.7 L706.8,186.7 L707.1,186.7 L707.4,186.7 L707.6,186.7 L707.9,186.7 L708.2,186.7 L708.4,186.7 L708.7,186.7 L709.0,186.7 L709.2,186.7 L709.5,186.7 L709.8,186.7 L710.0,186.7 L710.3,186.7 L710.6,186.7 L710.8,186.7 L711.1,186.7 L711.4,186.7 L711.6,186.7 L711.9,186.7 L712.2,186.7 L712.4,186.7 L712.7,186.7 L713.0,186.7 L713.2,186.7 L713.5,186.7 L713.8,186.7 L714.0,186.7 L714.3,186.7 L714.6,186.7 L714.9,186.7 L715.1,186.7 L715.4,186.7 L715.7,186.7 L715.9,186.7 L716.2,186.7 L716.5,186.7 L716.7,186.7 L717.0,186.7 L717.3,186.7 L717.5,186.7 L717.8,186.7 L718.1,186.7 L718.3,186.7 L718.6,186.7 L718.9,186.7 L719.1,186.7 L719.4,186.7 L719.7,186.7 L719.9,186.7 L720.2,186.7 L720.5,186.7 L720.7,186.7 L721.0,186.7 L721.3,186.7 L721.5,186.7 L721.8,186.7 L722.1,186.7 L722.3,186.7 L722.6,186.7 L722.9,186.7 L723.1,186.7 L723.4,186.7 L723.7,186.7 L723.9,186.7 L724.2,186.7 L724.5,186.7 L724.8,186.7 L725.0,186.7 L725.3,186.7 L725.6,186.7 L725.8,186.7 L726.1,186.7 L726.4,186.7 L726.6,186.7 L726.9,186.7 L727.2,186.7 L727.4,186.7 L727.7,186.7 L728.0,186.7 L728.2,186.7 L728.5,186.7 L728.8,186.7 L729.0,186.7 L729.3,186.7 L729.6,186.7 L729.8,186.7 L730.1,186.7 L730.4,186.7 L730.6,186.7 L730.9,186.7 L731.2,186.7 L731.4,186.7 L731.7,186.7 L732.0,186.7 L732.2,186.7 L732.5,186.7 L732.8,186.7 L733.0,186.7 L733.3,186.7 L733.6,186.7 L733.8,186.7 L734.1,186.7 L734.4,186.7 L734.6,186.7 L734.9,186.7 L735.2,186.7 L735.5,186.7 L735.7,186.7 L736.0,186.7 L736.3,186.7 L736.5,186.7 L736.8,186.7 L737.1,186.7 L737.3,186.7 L737.6,186.7 L737.9,186.7 L738.1,186.7 L738.4,186.7 L738.7,186.7 L738.9,186.7 L739.2,186.7 L739.5,186.7 L739.7,186.7 L740.0,186.7 L740.3,186.7 L740.5,186.7 L740.8,186.7 L741.1,186.7 L741.3,186.7 L741.6,186.7 L741.9,186.7 L742.1,186.7 L742.4,186.7 L742.7,186.7 L742.9,186.7 L743.2,186.7 L743.5,186.7 L743.7,186.7 L744.0,186.7 L744.3,186.7 L744.5,186.7 L744.8,186.7 L745.1,186.7 L745.3,186.7 L745.6,186.7 L745.9,186.7 L746.1,186.7 L746.4,186.7 L746.7,186.7 L747.0,186.7 L747.2,186.7 L747.5,186.7 L747.8,186.7 L748.0,186.7 L748.3,186.7 L748.6,186.7 L748.8,186.7 L749.1,186.7 L749.4,186.7 L749.6,186.7 L749.9,186.7 L750.2,186.7 L750.4,186.7 L750.7,186.7 L751.0,186.7 L751.2,186.7 L751.5,186.7" stroke="#1a1aff" stroke-width="1.3" fill="none" stroke-dasharray="4.4,4.0"/>
<path d="M484.00,222.50v-4M550.88,222.50v-4M617.75,222.50v-4M684.62,222.50v-4M751.50,222.50v-4M517.44,222.50v-2.2M584.31,222.50v-2.2M651.19,222.50v-2.2M718.06,222.50v-2.2M484.00,222.50h4M484.00,186.65h4M484.00,150.80h4M484.00,114.95h4M484.00,79.10h4M484.00,43.25h4M484.00,7.40h4M484.00,204.57h2.2M484.00,168.73h2.2M484.00,132.88h2.2M484.00,97.02h2.2M484.00,61.18h2.2M484.00,25.33h2.2" stroke="#333" stroke-width="1.1" fill="none"/>
<rect x="484.00" y="7.40" width="267.50" height="215.10" stroke="#333" stroke-width="1.15" fill="none"/>
<text x="484.00" y="235.30" font-size="10" text-anchor="middle" >0</text>
<text x="550.88" y="235.30" font-size="10" text-anchor="middle" >50</text>
<text x="617.75" y="235.30" font-size="10" text-anchor="middle" >100</text>
<text x="684.62" y="235.30" font-size="10" text-anchor="middle" >150</text>
<text x="751.50" y="235.30" font-size="10" text-anchor="middle" >200</text>
<text x="479.00" y="225.40" font-size="10" text-anchor="end" >−0.02</text>
<text x="479.00" y="189.55" font-size="10" text-anchor="end" >0.00</text>
<text x="479.00" y="153.70" font-size="10" text-anchor="end" >0.02</text>
<text x="479.00" y="117.85" font-size="10" text-anchor="end" >0.04</text>
<text x="479.00" y="82.00" font-size="10" text-anchor="end" >0.06</text>
<text x="479.00" y="46.15" font-size="10" text-anchor="end" >0.08</text>
<text x="479.00" y="10.30" font-size="10" text-anchor="end" >0.10</text>
<rect x="660.30" y="53.20" width="69.60" height="51.10" fill="#fff" stroke="#777" stroke-width="1"/>
<path d="M662.70,60.00H683.90" stroke="#00f000" stroke-width="2.9" stroke-linecap="round" fill="none"/>
<text x="687.40" y="63.50" font-size="10" text-anchor="start" >Reference</text>
<path d="M661.40,72.60H685.20" stroke="#333" stroke-width="1.2" fill="none"/>
<text x="687.40" y="76.10" font-size="10" text-anchor="start" >40 km/h</text>
<path d="M661.40,85.20H685.20" stroke="#ff1a1a" stroke-width="1.2" fill="none" stroke-dasharray="3.3,1.1,1.0,1.1"/>
<text x="687.40" y="88.70" font-size="10" text-anchor="start" >80 km/h</text>
<path d="M661.40,97.70h21.6" stroke="#1a1aff" stroke-width="1.4" stroke-dasharray="4.4,4.2" fill="none"/>
<text x="687.40" y="101.20" font-size="10" text-anchor="start" >120 km/h</text>
<path d="M115.50,284.70V503.20M182.50,284.70V503.20M250.50,284.70V503.20M47.50,466.50H318.40M47.50,430.50H318.40M47.50,393.50H318.40M47.50,357.50H318.40M47.50,321.50H318.40" stroke="#dcdcdc" stroke-width="1" fill="none"/>
<path d="M47.5,393.9 L48.0,393.9 L48.6,393.9 L49.1,393.9 L49.7,393.9 L50.2,393.9 L50.8,393.9 L51.3,393.9 L51.8,393.9 L52.4,393.9 L52.9,393.9 L53.5,393.9 L54.0,393.9 L54.5,393.9 L55.1,393.9 L55.6,393.9 L56.2,393.9 L56.7,393.9 L57.3,393.9 L57.8,393.9 L58.3,393.9 L58.9,393.9 L59.4,393.9 L60.0,393.9 L60.5,393.9 L61.0,393.9 L61.6,393.9 L62.1,393.9 L62.7,393.9 L63.2,393.9 L63.8,393.9 L64.3,393.9 L64.8,393.9 L65.4,393.9 L65.9,393.9 L66.5,393.9 L67.0,393.9 L67.5,393.9 L68.1,393.9 L68.6,393.9 L69.2,393.9 L69.7,393.9 L70.3,393.9 L70.8,393.9 L71.3,393.9 L71.9,393.8 L72.4,393.7 L73.0,393.5 L73.5,393.2 L74.0,392.8 L74.6,392.3 L75.1,391.6 L75.7,390.8 L76.2,389.8 L76.8,388.5 L77.3,387.1 L77.8,385.6 L78.4,383.9 L78.9,382.1 L79.5,380.3 L80.0,378.6 L80.5,376.8 L81.1,375.1 L81.6,373.5 L82.2,372.0 L82.7,370.5 L83.3,369.1 L83.8,367.7 L84.3,366.4 L84.9,365.2 L85.4,364.0 L86.0,362.8 L86.5,361.8 L87.1,360.8 L87.6,359.8 L88.1,359.0 L88.7,358.2 L89.2,357.5 L89.8,356.8 L90.3,356.2 L90.8,355.7 L91.4,355.2 L91.9,354.8 L92.5,354.3 L93.0,354.0 L93.6,353.7 L94.1,353.4 L94.6,353.1 L95.2,352.9 L95.7,352.7 L96.3,352.5 L96.8,352.4 L97.3,352.3 L97.9,352.2 L98.4,352.1 L99.0,352.1 L99.5,352.1 L100.1,352.2 L100.6,352.3 L101.1,352.4 L101.7,352.5 L102.2,352.7 L102.8,352.9 L103.3,353.2 L103.8,353.5 L104.4,353.8 L104.9,354.1 L105.5,354.5 L106.0,354.9 L106.6,355.3 L107.1,355.8 L107.6,356.3 L108.2,356.8 L108.7,357.4 L109.3,358.0 L109.8,358.6 L110.3,359.3 L110.9,359.9 L111.4,360.6 L112.0,361.4 L112.5,362.1 L113.1,362.9 L113.6,363.7 L114.1,364.5 L114.7,365.4 L115.2,366.3 L115.8,367.2 L116.3,368.1 L116.9,369.0 L117.4,370.0 L117.9,371.0 L118.5,372.0 L119.0,373.0 L119.6,374.0 L120.1,375.1 L120.6,376.1 L121.2,377.2 L121.7,378.3 L122.3,379.4 L122.8,380.5 L123.4,381.6 L123.9,382.8 L124.4,383.9 L125.0,385.1 L125.5,386.2 L126.1,387.4 L126.6,388.6 L127.1,389.7 L127.7,390.9 L128.2,392.1 L128.8,393.3 L129.3,394.5 L129.9,395.6 L130.4,396.8 L130.9,398.0 L131.5,399.2 L132.0,400.4 L132.6,401.5 L133.1,402.7 L133.6,403.8 L134.2,405.0 L134.7,406.1 L135.3,407.3 L135.8,408.4 L136.4,409.5 L136.9,410.6 L137.4,411.7 L138.0,412.7 L138.5,413.8 L139.1,414.8 L139.6,415.8 L140.1,416.8 L140.7,417.8 L141.2,418.8 L141.8,419.7 L142.3,420.6 L142.9,421.5 L143.4,422.4 L143.9,423.3 L144.5,424.1 L145.0,424.9 L145.6,425.7 L146.1,426.5 L146.6,427.2 L147.2,427.9 L147.7,428.6 L148.3,429.3 L148.8,429.9 L149.4,430.5 L149.9,431.1 L150.4,431.6 L151.0,432.1 L151.5,432.6 L152.1,433.0 L152.6,433.5 L153.2,433.8 L153.7,434.2 L154.2,434.5 L154.8,434.8 L155.3,435.1 L155.9,435.3 L156.4,435.5 L156.9,435.6 L157.5,435.7 L158.0,435.8 L158.6,435.9 L159.1,435.9 L159.7,435.9 L160.2,435.8 L160.7,435.7 L161.3,435.5 L161.8,435.3 L162.4,435.0 L162.9,434.7 L163.4,434.3 L164.0,433.9 L164.5,433.4 L165.1,432.9 L165.6,432.4 L166.2,431.8 L166.7,431.2 L167.2,430.5 L167.8,429.8 L168.3,429.1 L168.9,428.3 L169.4,427.5 L169.9,426.7 L170.5,425.8 L171.0,424.9 L171.6,423.9 L172.1,422.9 L172.7,421.8 L173.2,420.7 L173.7,419.6 L174.3,418.4 L174.8,417.1 L175.4,415.8 L175.9,414.4 L176.4,413.0 L177.0,411.6 L177.5,410.1 L178.1,408.7 L178.6,407.2 L179.2,405.7 L179.7,404.3 L180.2,402.9 L180.8,401.6 L181.3,400.4 L181.9,399.3 L182.4,398.3 L182.9,397.4 L183.5,396.7 L184.0,396.0 L184.6,395.4 L185.1,395.0 L185.7,394.6 L186.2,394.3 L186.7,394.1 L187.3,393.9 L187.8,393.8 L188.4,393.7 L188.9,393.6 L189.5,393.6 L190.0,393.6 L190.5,393.6 L191.1,393.6 L191.6,393.6 L192.2,393.6 L192.7,393.6 L193.2,393.6 L193.8,393.7 L194.3,393.7 L194.9,393.7 L195.4,393.7 L196.0,393.8 L196.5,393.8 L197.0,393.8 L197.6,393.9 L198.1,393.9 L198.7,393.9 L199.2,393.9 L199.7,393.9 L200.3,393.9 L200.8,393.9 L201.4,393.9 L201.9,393.9 L202.5,393.9 L203.0,393.9 L203.5,393.9 L204.1,393.9 L204.6,393.9 L205.2,393.9 L205.7,393.9 L206.2,393.9 L206.8,393.9 L207.3,393.9 L207.9,393.9 L208.4,393.9 L209.0,393.9 L209.5,393.9 L210.0,393.9 L210.6,393.9 L211.1,393.9 L211.7,393.9 L212.2,393.9 L212.7,393.9 L213.3,393.9 L213.8,393.9 L214.4,393.9 L214.9,393.9 L215.5,393.9 L216.0,393.9 L216.5,393.9 L217.1,393.9 L217.6,393.9 L218.2,393.9 L218.7,393.9 L219.3,393.9 L219.8,393.9 L220.3,393.9 L220.9,393.9 L221.4,393.9 L222.0,393.9 L222.5,393.9 L223.0,393.9 L223.6,393.9 L224.1,393.9 L224.7,393.9 L225.2,393.9 L225.8,393.9 L226.3,393.9 L226.8,393.9 L227.4,393.9 L227.9,393.9 L228.5,393.9 L229.0,393.9 L229.5,393.9 L230.1,393.9 L230.6,393.9 L231.2,393.9 L231.7,393.9 L232.3,393.9 L232.8,393.9 L233.3,393.9 L233.9,393.9 L234.4,393.9 L235.0,393.9 L235.5,393.9 L236.0,393.9 L236.6,393.9 L237.1,393.9 L237.7,393.9 L238.2,393.9 L238.8,393.9 L239.3,393.9 L239.8,393.9 L240.4,393.9 L240.9,393.9 L241.5,393.9 L242.0,393.9 L242.5,393.9 L243.1,393.9 L243.6,393.9 L244.2,393.9 L244.7,393.9 L245.3,393.9 L245.8,393.9 L246.3,393.9 L246.9,393.9 L247.4,393.9 L248.0,393.9 L248.5,393.9 L249.0,393.9 L249.6,393.9 L250.1,393.9 L250.7,393.9 L251.2,393.9 L251.8,393.9 L252.3,393.9 L252.8,393.9 L253.4,393.9 L253.9,393.9 L254.5,393.9 L255.0,393.9 L255.6,393.9 L256.1,393.9 L256.6,393.9 L257.2,393.9 L257.7,393.9 L258.3,393.9 L258.8,393.9 L259.3,393.9 L259.9,393.9 L260.4,393.9 L261.0,393.9 L261.5,393.9 L262.1,393.9 L262.6,393.9 L263.1,393.9 L263.7,393.9 L264.2,393.9 L264.8,393.9 L265.3,393.9 L265.8,393.9 L266.4,393.9 L266.9,393.9 L267.5,393.9 L268.0,393.9 L268.6,393.9 L269.1,393.9 L269.6,393.9 L270.2,393.9 L270.7,393.9 L271.3,393.9 L271.8,393.9 L272.3,393.9 L272.9,393.9 L273.4,393.9 L274.0,393.9 L274.5,393.9 L275.1,393.9 L275.6,393.9 L276.1,393.9 L276.7,393.9 L277.2,393.9 L277.8,393.9 L278.3,393.9 L278.8,393.9 L279.4,393.9 L279.9,393.9 L280.5,393.9 L281.0,393.9 L281.6,393.9 L282.1,393.9 L282.6,393.9 L283.2,393.9 L283.7,393.9 L284.3,393.9 L284.8,393.9 L285.4,393.9 L285.9,393.9 L286.4,393.9 L287.0,393.9 L287.5,393.9 L288.1,393.9 L288.6,393.9 L289.1,393.9 L289.7,393.9 L290.2,393.9 L290.8,393.9 L291.3,393.9 L291.9,393.9 L292.4,393.9 L292.9,393.9 L293.5,393.9 L294.0,393.9 L294.6,393.9 L295.1,393.9 L295.6,393.9 L296.2,393.9 L296.7,393.9 L297.3,393.9 L297.8,393.9 L298.4,393.9 L298.9,393.9 L299.4,393.9 L300.0,393.9 L300.5,393.9 L301.1,393.9 L301.6,393.9 L302.1,393.9 L302.7,393.9 L303.2,393.9 L303.8,393.9 L304.3,393.9 L304.9,393.9 L305.4,393.9 L305.9,393.9 L306.5,393.9 L307.0,393.9 L307.6,393.9 L308.1,393.9 L308.6,393.9 L309.2,393.9 L309.7,393.9 L310.3,393.9 L310.8,393.9 L311.4,393.9 L311.9,393.9 L312.4,393.9 L313.0,393.9 L313.5,393.9 L314.1,393.9 L314.6,393.9 L315.1,393.9 L315.7,393.9 L316.2,393.9 L316.8,393.9 L317.3,393.9 L317.9,393.9 L318.4,393.9" stroke="#111" stroke-width="1.2" fill="none"/>
<path d="M47.5,393.9 L48.0,393.9 L48.6,393.9 L49.1,393.9 L49.7,393.9 L50.2,393.9 L50.8,393.9 L51.3,393.9 L51.8,393.9 L52.4,393.9 L52.9,393.9 L53.5,393.9 L54.0,393.9 L54.5,393.9 L55.1,393.9 L55.6,393.9 L56.2,393.9 L56.7,393.9 L57.3,393.9 L57.8,393.9 L58.3,393.9 L58.9,393.9 L59.4,393.9 L60.0,393.9 L60.5,393.9 L61.0,393.9 L61.6,393.9 L62.1,393.9 L62.7,393.9 L63.2,393.9 L63.8,393.9 L64.3,393.9 L64.8,393.9 L65.4,393.9 L65.9,393.9 L66.5,393.9 L67.0,393.9 L67.5,393.9 L68.1,393.9 L68.6,393.9 L69.2,393.9 L69.7,393.8 L70.3,393.7 L70.8,393.4 L71.3,393.0 L71.9,392.4 L72.4,391.5 L73.0,390.3 L73.5,388.8 L74.0,386.9 L74.6,384.7 L75.1,382.3 L75.7,379.6 L76.2,376.8 L76.8,373.9 L77.3,371.1 L77.8,368.4 L78.4,365.9 L78.9,363.5 L79.5,361.4 L80.0,359.4 L80.5,357.5 L81.1,355.8 L81.6,354.1 L82.2,352.5 L82.7,351.0 L83.3,349.6 L83.8,348.2 L84.3,346.8 L84.9,345.6 L85.4,344.4 L86.0,343.3 L86.5,342.3 L87.1,341.4 L87.6,340.5 L88.1,339.7 L88.7,338.9 L89.2,338.2 L89.8,337.6 L90.3,337.0 L90.8,336.4 L91.4,335.9 L91.9,335.5 L92.5,335.1 L93.0,334.7 L93.6,334.4 L94.1,334.1 L94.6,333.9 L95.2,333.7 L95.7,333.5 L96.3,333.4 L96.8,333.3 L97.3,333.3 L97.9,333.4 L98.4,333.5 L99.0,333.7 L99.5,333.9 L100.1,334.1 L100.6,334.4 L101.1,334.7 L101.7,335.1 L102.2,335.5 L102.8,335.9 L103.3,336.4 L103.8,337.0 L104.4,337.6 L104.9,338.2 L105.5,338.9 L106.0,339.6 L106.6,340.3 L107.1,341.1 L107.6,341.9 L108.2,342.7 L108.7,343.6 L109.3,344.5 L109.8,345.5 L110.3,346.4 L110.9,347.4 L111.4,348.5 L112.0,349.5 L112.5,350.6 L113.1,351.7 L113.6,352.8 L114.1,354.0 L114.7,355.2 L115.2,356.4 L115.8,357.6 L116.3,358.9 L116.9,360.2 L117.4,361.6 L117.9,363.0 L118.5,364.4 L119.0,365.9 L119.6,367.4 L120.1,368.9 L120.6,370.5 L121.2,372.0 L121.7,373.6 L122.3,375.1 L122.8,376.7 L123.4,378.2 L123.9,379.7 L124.4,381.2 L125.0,382.7 L125.5,384.2 L126.1,385.7 L126.6,387.2 L127.1,388.7 L127.7,390.2 L128.2,391.7 L128.8,393.2 L129.3,394.8 L129.9,396.5 L130.4,398.1 L130.9,399.8 L131.5,401.6 L132.0,403.4 L132.6,405.2 L133.1,407.0 L133.6,408.9 L134.2,410.7 L134.7,412.6 L135.3,414.4 L135.8,416.1 L136.4,417.8 L136.9,419.5 L137.4,421.2 L138.0,422.8 L138.5,424.3 L139.1,425.9 L139.6,427.4 L140.1,428.8 L140.7,430.3 L141.2,431.7 L141.8,433.1 L142.3,434.4 L142.9,435.7 L143.4,437.0 L143.9,438.3 L144.5,439.5 L145.0,440.7 L145.6,441.9 L146.1,443.1 L146.6,444.2 L147.2,445.3 L147.7,446.4 L148.3,447.4 L148.8,448.4 L149.4,449.4 L149.9,450.2 L150.4,451.1 L151.0,451.8 L151.5,452.6 L152.1,453.2 L152.6,453.8 L153.2,454.4 L153.7,454.8 L154.2,455.2 L154.8,455.6 L155.3,455.9 L155.9,456.1 L156.4,456.2 L156.9,456.3 L157.5,456.3 L158.0,456.2 L158.6,456.0 L159.1,455.8 L159.7,455.5 L160.2,455.1 L160.7,454.7 L161.3,454.3 L161.8,453.8 L162.4,453.3 L162.9,452.7 L163.4,452.0 L164.0,451.3 L164.5,450.6 L165.1,449.8 L165.6,449.0 L166.2,448.1 L166.7,447.2 L167.2,446.3 L167.8,445.4 L168.3,444.4 L168.9,443.3 L169.4,442.2 L169.9,441.0 L170.5,439.8 L171.0,438.4 L171.6,437.0 L172.1,435.5 L172.7,433.8 L173.2,432.1 L173.7,430.3 L174.3,428.4 L174.8,426.4 L175.4,424.3 L175.9,422.2 L176.4,420.0 L177.0,417.7 L177.5,415.4 L178.1,413.1 L178.6,410.8 L179.2,408.5 L179.7,406.5 L180.2,404.5 L180.8,402.9 L181.3,401.5 L181.9,400.4 L182.4,399.5 L182.9,398.9 L183.5,398.5 L184.0,398.2 L184.6,398.0 L185.1,397.9 L185.7,397.8 L186.2,397.7 L186.7,397.7 L187.3,397.6 L187.8,397.5 L188.4,397.5 L188.9,397.4 L189.5,397.4 L190.0,397.3 L190.5,397.3 L191.1,397.2 L191.6,397.1 L192.2,397.0 L192.7,396.8 L193.2,396.7 L193.8,396.6 L194.3,396.4 L194.9,396.2 L195.4,396.1 L196.0,395.9 L196.5,395.8 L197.0,395.6 L197.6,395.5 L198.1,395.3 L198.7,395.2 L199.2,395.1 L199.7,395.0 L200.3,394.8 L200.8,394.7 L201.4,394.6 L201.9,394.6 L202.5,394.5 L203.0,394.4 L203.5,394.3 L204.1,394.2 L204.6,394.2 L205.2,394.1 L205.7,394.1 L206.2,394.0 L206.8,394.0 L207.3,394.0 L207.9,394.0 L208.4,394.0 L209.0,394.0 L209.5,394.0 L210.0,394.0 L210.6,394.0 L211.1,394.0 L211.7,394.0 L212.2,394.0 L212.7,393.9 L213.3,393.9 L213.8,393.9 L214.4,393.9 L214.9,393.9 L215.5,393.9 L216.0,393.9 L216.5,393.9 L217.1,393.9 L217.6,393.9 L218.2,393.9 L218.7,393.9 L219.3,393.9 L219.8,393.9 L220.3,393.9 L220.9,393.9 L221.4,393.9 L222.0,393.9 L222.5,393.9 L223.0,393.9 L223.6,393.9 L224.1,393.9 L224.7,393.9 L225.2,393.9 L225.8,393.9 L226.3,393.9 L226.8,393.9 L227.4,393.9 L227.9,393.9 L228.5,393.9 L229.0,393.9 L229.5,393.9 L230.1,393.9 L230.6,393.9 L231.2,393.9 L231.7,393.9 L232.3,393.9 L232.8,393.9 L233.3,393.9 L233.9,393.9 L234.4,393.9 L235.0,393.9 L235.5,393.9 L236.0,393.9 L236.6,393.9 L237.1,393.9 L237.7,393.9 L238.2,393.9 L238.8,393.9 L239.3,393.9 L239.8,393.9 L240.4,393.9 L240.9,393.9 L241.5,393.9 L242.0,393.9 L242.5,393.9 L243.1,393.9 L243.6,393.9 L244.2,393.9 L244.7,393.9 L245.3,393.9 L245.8,393.9 L246.3,393.9 L246.9,393.9 L247.4,393.9 L248.0,393.9 L248.5,393.9 L249.0,393.9 L249.6,393.9 L250.1,393.9 L250.7,393.9 L251.2,393.9 L251.8,393.9 L252.3,393.9 L252.8,393.9 L253.4,393.9 L253.9,393.9 L254.5,393.9 L255.0,393.9 L255.6,393.9 L256.1,393.9 L256.6,393.9 L257.2,393.9 L257.7,393.9 L258.3,393.9 L258.8,393.9 L259.3,393.9 L259.9,393.9 L260.4,393.9 L261.0,393.9 L261.5,393.9 L262.1,393.9 L262.6,393.9 L263.1,393.9 L263.7,393.9 L264.2,393.9 L264.8,393.9 L265.3,393.9 L265.8,393.9 L266.4,393.9 L266.9,393.9 L267.5,393.9 L268.0,393.9 L268.6,393.9 L269.1,393.9 L269.6,393.9 L270.2,393.9 L270.7,393.9 L271.3,393.9 L271.8,393.9 L272.3,393.9 L272.9,393.9 L273.4,393.9 L274.0,393.9 L274.5,393.9 L275.1,393.9 L275.6,393.9 L276.1,393.9 L276.7,393.9 L277.2,393.9 L277.8,393.9 L278.3,393.9 L278.8,393.9 L279.4,393.9 L279.9,393.9 L280.5,393.9 L281.0,393.9 L281.6,393.9 L282.1,393.9 L282.6,393.9 L283.2,393.9 L283.7,393.9 L284.3,393.9 L284.8,393.9 L285.4,393.9 L285.9,393.9 L286.4,393.9 L287.0,393.9 L287.5,393.9 L288.1,393.9 L288.6,393.9 L289.1,393.9 L289.7,393.9 L290.2,393.9 L290.8,393.9 L291.3,393.9 L291.9,393.9 L292.4,393.9 L292.9,393.9 L293.5,393.9 L294.0,393.9 L294.6,393.9 L295.1,393.9 L295.6,393.9 L296.2,393.9 L296.7,393.9 L297.3,393.9 L297.8,393.9 L298.4,393.9 L298.9,393.9 L299.4,393.9 L300.0,393.9 L300.5,393.9 L301.1,393.9 L301.6,393.9 L302.1,393.9 L302.7,393.9 L303.2,393.9 L303.8,393.9 L304.3,393.9 L304.9,393.9 L305.4,393.9 L305.9,393.9 L306.5,393.9 L307.0,393.9 L307.6,393.9 L308.1,393.9 L308.6,393.9 L309.2,393.9 L309.7,393.9 L310.3,393.9 L310.8,393.9 L311.4,393.9 L311.9,393.9 L312.4,393.9 L313.0,393.9 L313.5,393.9 L314.1,393.9 L314.6,393.9 L315.1,393.9 L315.7,393.9 L316.2,393.9 L316.8,393.9 L317.3,393.9 L317.9,393.9 L318.4,393.9" stroke="#ff1a1a" stroke-width="1.2" fill="none" stroke-dasharray="3.3,1.1,1.0,1.1"/>
<path d="M47.5,393.9 L48.0,393.9 L48.6,393.9 L49.1,393.9 L49.7,393.9 L50.2,393.9 L50.8,393.9 L51.3,393.9 L51.8,393.9 L52.4,393.9 L52.9,393.9 L53.5,393.9 L54.0,393.9 L54.5,393.9 L55.1,393.9 L55.6,393.9 L56.2,393.9 L56.7,393.9 L57.3,393.9 L57.8,393.9 L58.3,393.9 L58.9,393.9 L59.4,393.9 L60.0,393.9 L60.5,393.9 L61.0,393.9 L61.6,393.9 L62.1,393.9 L62.7,393.9 L63.2,393.9 L63.8,393.9 L64.3,393.9 L64.8,393.9 L65.4,393.9 L65.9,393.9 L66.5,393.9 L67.0,393.9 L67.5,393.8 L68.1,393.6 L68.6,393.2 L69.2,392.5 L69.7,391.6 L70.3,390.3 L70.8,388.7 L71.3,386.7 L71.9,384.4 L72.4,381.9 L73.0,379.2 L73.5,376.5 L74.0,373.7 L74.6,370.7 L75.1,367.7 L75.7,364.7 L76.2,361.6 L76.8,358.6 L77.3,355.5 L77.8,352.5 L78.4,349.4 L78.9,346.4 L79.5,343.4 L80.0,340.3 L80.5,337.3 L81.1,334.2 L81.6,331.1 L82.2,328.2 L82.7,325.4 L83.3,322.9 L83.8,320.6 L84.3,318.5 L84.9,316.6 L85.4,315.0 L86.0,313.7 L86.5,312.6 L87.1,311.8 L87.6,311.2 L88.1,310.7 L88.7,310.5 L89.2,310.5 L89.8,310.8 L90.3,311.3 L90.8,312.1 L91.4,313.2 L91.9,314.8 L92.5,316.8 L93.0,319.1 L93.6,321.5 L94.1,324.2 L94.6,326.9 L95.2,329.9 L95.7,333.0 L96.3,336.3 L96.8,339.7 L97.3,343.1 L97.9,346.6 L98.4,350.2 L99.0,353.8 L99.5,357.5 L100.1,361.3 L100.6,365.1 L101.1,369.1 L101.7,373.2 L102.2,377.5 L102.8,382.0 L103.3,386.6 L103.8,391.2 L104.4,395.5 L104.9,399.3 L105.5,402.7 L106.0,405.8 L106.6,408.6 L107.1,411.4 L107.6,414.4 L108.2,417.8 L108.7,421.6 L109.3,425.8 L109.8,429.9 L110.3,433.6 L110.9,436.8 L111.4,439.6 L112.0,442.2 L112.5,444.7 L113.1,447.1 L113.6,449.4 L114.1,451.5 L114.7,453.3 L115.2,454.9 L115.8,456.3 L116.3,457.5 L116.9,458.6 L117.4,459.5 L117.9,460.2 L118.5,460.8 L119.0,461.2 L119.6,461.6 L120.1,461.8 L120.6,462.1 L121.2,462.2 L121.7,462.3 L122.3,462.3 L122.8,462.2 L123.4,461.9 L123.9,461.6 L124.4,461.2 L125.0,460.7 L125.5,460.2 L126.1,459.7 L126.6,459.2 L127.1,458.7 L127.7,458.2 L128.2,457.8 L128.8,457.4 L129.3,457.1 L129.9,456.8 L130.4,456.4 L130.9,456.1 L131.5,455.8 L132.0,455.5 L132.6,455.2 L133.1,455.0 L133.6,454.8 L134.2,454.6 L134.7,454.4 L135.3,454.3 L135.8,454.1 L136.4,454.0 L136.9,453.9 L137.4,453.9 L138.0,453.8 L138.5,453.7 L139.1,453.6 L139.6,453.6 L140.1,453.5 L140.7,453.4 L141.2,453.3 L141.8,453.2 L142.3,453.0 L142.9,452.9 L143.4,452.7 L143.9,452.5 L144.5,452.2 L145.0,451.9 L145.6,451.5 L146.1,451.1 L146.6,450.6 L147.2,449.9 L147.7,449.1 L148.3,448.3 L148.8,447.3 L149.4,446.2 L149.9,445.0 L150.4,443.7 L151.0,442.3 L151.5,440.9 L152.1,439.4 L152.6,437.9 L153.2,436.3 L153.7,434.6 L154.2,432.9 L154.8,431.2 L155.3,429.3 L155.9,427.4 L156.4,425.3 L156.9,423.0 L157.5,420.4 L158.0,417.6 L158.6,414.6 L159.1,411.5 L159.7,408.4 L160.2,405.4 L160.7,402.4 L161.3,399.3 L161.8,396.2 L162.4,393.1 L162.9,389.9 L163.4,386.6 L164.0,383.4 L164.5,380.3 L165.1,377.4 L165.6,374.7 L166.2,372.2 L166.7,369.9 L167.2,367.7 L167.8,365.4 L168.3,363.1 L168.9,360.6 L169.4,357.8 L169.9,354.6 L170.5,351.0 L171.0,347.0 L171.6,342.9 L172.1,338.7 L172.7,334.5 L173.2,330.6 L173.7,327.1 L174.3,324.1 L174.8,321.6 L175.4,319.4 L175.9,317.4 L176.4,315.6 L177.0,314.0 L177.5,312.5 L178.1,311.3 L178.6,310.3 L179.2,309.6 L179.7,309.2 L180.2,309.1 L180.8,309.4 L181.3,309.9 L181.9,310.7 L182.4,311.7 L182.9,313.0 L183.5,314.7 L184.0,317.0 L184.6,320.0 L185.1,323.4 L185.7,327.2 L186.2,331.2 L186.7,335.2 L187.3,339.5 L187.8,343.9 L188.4,348.4 L188.9,352.9 L189.5,357.3 L190.0,361.5 L190.5,365.5 L191.1,369.4 L191.6,373.0 L192.2,376.5 L192.7,379.9 L193.2,383.1 L193.8,386.0 L194.3,388.8 L194.9,391.4 L195.4,393.9 L196.0,396.2 L196.5,398.5 L197.0,400.5 L197.6,402.4 L198.1,404.0 L198.7,405.4 L199.2,406.5 L199.7,407.4 L200.3,408.1 L200.8,408.8 L201.4,409.4 L201.9,410.0 L202.5,410.4 L203.0,410.7 L203.5,410.9 L204.1,410.9 L204.6,410.9 L205.2,410.7 L205.7,410.5 L206.2,410.2 L206.8,409.8 L207.3,409.5 L207.9,409.1 L208.4,408.7 L209.0,408.3 L209.5,407.9 L210.0,407.5 L210.6,407.1 L211.1,406.6 L211.7,406.1 L212.2,405.6 L212.7,405.1 L213.3,404.6 L213.8,404.1 L214.4,403.5 L214.9,403.0 L215.5,402.4 L216.0,401.9 L216.5,401.4 L217.1,400.8 L217.6,400.3 L218.2,399.8 L218.7,399.3 L219.3,398.8 L219.8,398.3 L220.3,397.7 L220.9,397.2 L221.4,396.6 L222.0,396.1 L222.5,395.6 L223.0,395.2 L223.6,394.8 L224.1,394.4 L224.7,394.1 L225.2,393.9 L225.8,393.7 L226.3,393.5 L226.8,393.4 L227.4,393.2 L227.9,393.1 L228.5,392.9 L229.0,392.8 L229.5,392.7 L230.1,392.6 L230.6,392.6 L231.2,392.5 L231.7,392.5 L232.3,392.5 L232.8,392.5 L233.3,392.5 L233.9,392.5 L234.4,392.6 L235.0,392.6 L235.5,392.6 L236.0,392.7 L236.6,392.7 L237.1,392.8 L237.7,392.8 L238.2,392.8 L238.8,392.9 L239.3,392.9 L239.8,393.0 L240.4,393.0 L240.9,393.1 L241.5,393.2 L242.0,393.2 L242.5,393.3 L243.1,393.4 L243.6,393.4 L244.2,393.5 L244.7,393.6 L245.3,393.6 L245.8,393.7 L246.3,393.7 L246.9,393.8 L247.4,393.8 L248.0,393.9 L248.5,393.9 L249.0,393.9 L249.6,393.9 L250.1,393.9 L250.7,393.9 L251.2,393.9 L251.8,393.9 L252.3,393.9 L252.8,393.9 L253.4,393.9 L253.9,393.9 L254.5,393.9 L255.0,393.9 L255.6,393.9 L256.1,393.9 L256.6,393.9 L257.2,393.9 L257.7,393.9 L258.3,393.9 L258.8,393.9 L259.3,393.9 L259.9,393.9 L260.4,393.9 L261.0,393.9 L261.5,393.9 L262.1,393.9 L262.6,393.9 L263.1,393.9 L263.7,393.9 L264.2,393.9 L264.8,393.9 L265.3,393.9 L265.8,393.9 L266.4,393.9 L266.9,393.9 L267.5,393.9 L268.0,393.9 L268.6,393.9 L269.1,393.9 L269.6,393.9 L270.2,393.9 L270.7,393.9 L271.3,393.9 L271.8,393.9 L272.3,393.9 L272.9,393.9 L273.4,393.9 L274.0,393.9 L274.5,393.9 L275.1,393.9 L275.6,393.9 L276.1,393.9 L276.7,393.9 L277.2,393.9 L277.8,393.9 L278.3,393.9 L278.8,393.9 L279.4,393.9 L279.9,393.9 L280.5,393.9 L281.0,393.9 L281.6,393.9 L282.1,393.9 L282.6,393.9 L283.2,393.9 L283.7,393.9 L284.3,393.9 L284.8,393.9 L285.4,393.9 L285.9,393.9 L286.4,393.9 L287.0,393.9 L287.5,393.9 L288.1,393.9 L288.6,393.9 L289.1,393.9 L289.7,393.9 L290.2,393.9 L290.8,393.9 L291.3,393.9 L291.9,393.9 L292.4,393.9 L292.9,393.9 L293.5,393.9 L294.0,393.9 L294.6,393.9 L295.1,393.9 L295.6,393.9 L296.2,393.9 L296.7,393.9 L297.3,393.9 L297.8,393.9 L298.4,393.9 L298.9,393.9 L299.4,393.9 L300.0,393.9 L300.5,393.9 L301.1,393.9 L301.6,393.9 L302.1,393.9 L302.7,393.9 L303.2,393.9 L303.8,393.9 L304.3,393.9 L304.9,393.9 L305.4,393.9 L305.9,393.9 L306.5,393.9 L307.0,393.9 L307.6,393.9 L308.1,393.9 L308.6,393.9 L309.2,393.9 L309.7,393.9 L310.3,393.9 L310.8,393.9 L311.4,393.9 L311.9,393.9 L312.4,393.9 L313.0,393.9 L313.5,393.9 L314.1,393.9 L314.6,393.9 L315.1,393.9 L315.7,393.9 L316.2,393.9 L316.8,393.9 L317.3,393.9 L317.9,393.9 L318.4,393.9" stroke="#1a1aff" stroke-width="1.3" fill="none" stroke-dasharray="4.4,4.0"/>
<path d="M47.50,503.20v-4M115.22,503.20v-4M182.95,503.20v-4M250.67,503.20v-4M318.40,503.20v-4M81.36,503.20v-2.2M149.09,503.20v-2.2M216.81,503.20v-2.2M284.54,503.20v-2.2M47.50,503.20h4M47.50,466.78h4M47.50,430.37h4M47.50,393.95h4M47.50,357.53h4M47.50,321.12h4M47.50,284.70h4M47.50,484.99h2.2M47.50,448.57h2.2M47.50,412.16h2.2M47.50,375.74h2.2M47.50,339.32h2.2M47.50,302.91h2.2" stroke="#333" stroke-width="1.1" fill="none"/>
<rect x="47.50" y="284.70" width="270.90" height="218.50" stroke="#333" stroke-width="1.15" fill="none"/>
<text x="47.50" y="516.00" font-size="10" text-anchor="middle" >0</text>
<text x="115.22" y="516.00" font-size="10" text-anchor="middle" >50</text>
<text x="182.95" y="516.00" font-size="10" text-anchor="middle" >100</text>
<text x="250.67" y="516.00" font-size="10" text-anchor="middle" >150</text>
<text x="318.40" y="516.00" font-size="10" text-anchor="middle" >200</text>
<text x="42.50" y="506.10" font-size="10" text-anchor="end" >−0.03</text>
<text x="42.50" y="469.68" font-size="10" text-anchor="end" >−0.02</text>
<text x="42.50" y="433.27" font-size="10" text-anchor="end" >−0.01</text>
<text x="42.50" y="396.85" font-size="10" text-anchor="end" >0.00</text>
<text x="42.50" y="360.43" font-size="10" text-anchor="end" >0.01</text>
<text x="42.50" y="324.02" font-size="10" text-anchor="end" >0.02</text>
<text x="42.50" y="287.60" font-size="10" text-anchor="end" >0.03</text>
<rect x="227.40" y="323.20" width="67.30" height="39.30" fill="#fff" stroke="#777" stroke-width="1"/>
<path d="M228.90,330.50H251.90" stroke="#111" stroke-width="1.2" fill="none"/>
<text x="254.60" y="334.00" font-size="10" text-anchor="start" >40 km/h</text>
<path d="M228.90,343.00H251.90" stroke="#ff1a1a" stroke-width="1.2" fill="none" stroke-dasharray="3.3,1.1,1.0,1.1"/>
<text x="254.60" y="346.50" font-size="10" text-anchor="start" >80 km/h</text>
<path d="M228.90,355.60h21.6" stroke="#1a1aff" stroke-width="1.4" stroke-dasharray="4.4,4.2" fill="none"/>
<text x="254.60" y="359.10" font-size="10" text-anchor="start" >120 km/h</text>
<path d="M551.50,282.60V500.10M618.50,282.60V500.10M686.50,282.60V500.10M483.60,478.50H753.60M483.60,434.50H753.60M483.60,391.50H753.60M483.60,347.50H753.60M483.60,304.50H753.60" stroke="#dcdcdc" stroke-width="1" fill="none"/>
<path d="M483.6,391.4 L484.1,391.4 L484.7,391.4 L485.2,391.4 L485.8,391.4 L486.3,391.4 L486.8,391.4 L487.4,391.4 L487.9,391.4 L488.5,391.4 L489.0,391.4 L489.5,391.4 L490.1,391.4 L490.6,391.4 L491.2,391.4 L491.7,391.4 L492.2,391.4 L492.8,391.4 L493.3,391.4 L493.9,391.4 L494.4,391.4 L494.9,391.4 L495.5,391.4 L496.0,391.4 L496.6,391.4 L497.1,391.4 L497.6,391.4 L498.2,391.4 L498.7,391.4 L499.3,391.4 L499.8,391.4 L500.3,391.4 L500.9,391.4 L501.4,391.4 L502.0,391.4 L502.5,391.4 L503.0,391.4 L503.6,391.4 L504.1,391.4 L504.7,391.3 L505.2,391.3 L505.7,391.3 L506.3,391.3 L506.8,391.3 L507.4,391.2 L507.9,390.9 L508.4,390.4 L509.0,389.6 L509.5,388.5 L510.1,387.2 L510.6,385.6 L511.1,383.7 L511.7,381.8 L512.2,379.9 L512.8,378.4 L513.3,377.2 L513.8,376.4 L514.4,375.8 L514.9,375.3 L515.5,375.0 L516.0,374.7 L516.5,374.4 L517.1,374.2 L517.6,373.9 L518.2,373.6 L518.7,373.3 L519.2,373.0 L519.8,372.6 L520.3,372.3 L520.9,371.9 L521.4,371.6 L521.9,371.2 L522.5,370.8 L523.0,370.5 L523.6,370.1 L524.1,369.8 L524.6,369.5 L525.2,369.2 L525.7,368.9 L526.3,368.6 L526.8,368.3 L527.3,368.1 L527.9,367.8 L528.4,367.6 L529.0,367.4 L529.5,367.2 L530.0,367.1 L530.6,366.9 L531.1,366.8 L531.7,366.6 L532.2,366.5 L532.7,366.4 L533.3,366.4 L533.8,366.4 L534.4,366.4 L534.9,366.4 L535.4,366.5 L536.0,366.6 L536.5,366.7 L537.1,366.8 L537.6,366.9 L538.1,367.1 L538.7,367.2 L539.2,367.4 L539.8,367.6 L540.3,367.8 L540.8,368.1 L541.4,368.4 L541.9,368.8 L542.5,369.1 L543.0,369.5 L543.5,369.9 L544.1,370.4 L544.6,370.8 L545.2,371.2 L545.7,371.7 L546.2,372.2 L546.8,372.7 L547.3,373.2 L547.9,373.8 L548.4,374.3 L548.9,374.9 L549.5,375.5 L550.0,376.1 L550.6,376.7 L551.1,377.3 L551.6,378.0 L552.2,378.6 L552.7,379.2 L553.3,379.9 L553.8,380.6 L554.3,381.3 L554.9,382.0 L555.4,382.7 L556.0,383.5 L556.5,384.2 L557.0,384.9 L557.6,385.6 L558.1,386.2 L558.7,386.8 L559.2,387.4 L559.7,388.0 L560.3,388.6 L560.8,389.2 L561.4,389.8 L561.9,390.4 L562.4,391.0 L563.0,391.7 L563.5,392.3 L564.1,393.0 L564.6,393.6 L565.1,394.3 L565.7,395.0 L566.2,395.6 L566.8,396.3 L567.3,397.0 L567.8,397.6 L568.4,398.3 L568.9,398.9 L569.5,399.6 L570.0,400.2 L570.5,400.8 L571.1,401.4 L571.6,402.0 L572.2,402.6 L572.7,403.2 L573.2,403.8 L573.8,404.3 L574.3,404.9 L574.9,405.5 L575.4,406.0 L575.9,406.6 L576.5,407.1 L577.0,407.7 L577.6,408.2 L578.1,408.7 L578.6,409.2 L579.2,409.7 L579.7,410.1 L580.3,410.6 L580.8,411.1 L581.3,411.5 L581.9,411.9 L582.4,412.4 L583.0,412.8 L583.5,413.2 L584.0,413.6 L584.6,413.9 L585.1,414.3 L585.7,414.6 L586.2,414.8 L586.7,415.1 L587.3,415.3 L587.8,415.5 L588.4,415.7 L588.9,416.0 L589.4,416.1 L590.0,416.3 L590.5,416.5 L591.1,416.6 L591.6,416.7 L592.1,416.7 L592.7,416.8 L593.2,416.8 L593.8,416.7 L594.3,416.7 L594.8,416.6 L595.4,416.5 L595.9,416.4 L596.5,416.3 L597.0,416.1 L597.5,416.0 L598.1,415.8 L598.6,415.7 L599.2,415.5 L599.7,415.2 L600.2,415.0 L600.8,414.7 L601.3,414.4 L601.9,414.0 L602.4,413.6 L602.9,413.0 L603.5,412.4 L604.0,411.7 L604.6,410.9 L605.1,410.2 L605.6,409.4 L606.2,408.6 L606.7,407.7 L607.3,406.8 L607.8,405.9 L608.3,404.9 L608.9,403.9 L609.4,402.8 L610.0,401.6 L610.5,400.4 L611.0,399.3 L611.6,398.1 L612.1,397.0 L612.7,395.9 L613.2,395.1 L613.7,394.4 L614.3,394.0 L614.8,393.9 L615.4,394.2 L615.9,394.9 L616.4,395.7 L617.0,396.5 L617.5,397.1 L618.1,397.6 L618.6,397.7 L619.1,397.7 L619.7,397.5 L620.2,397.4 L620.8,397.1 L621.3,396.9 L621.8,396.6 L622.4,396.3 L622.9,396.0 L623.5,395.6 L624.0,395.3 L624.5,395.0 L625.1,394.7 L625.6,394.4 L626.2,394.0 L626.7,393.7 L627.2,393.4 L627.8,393.1 L628.3,392.9 L628.9,392.6 L629.4,392.4 L629.9,392.3 L630.5,392.1 L631.0,392.0 L631.6,391.9 L632.1,391.8 L632.6,391.7 L633.2,391.6 L633.7,391.5 L634.3,391.4 L634.8,391.4 L635.3,391.4 L635.9,391.4 L636.4,391.4 L637.0,391.4 L637.5,391.4 L638.0,391.4 L638.6,391.4 L639.1,391.4 L639.7,391.4 L640.2,391.4 L640.7,391.4 L641.3,391.4 L641.8,391.4 L642.4,391.4 L642.9,391.4 L643.4,391.4 L644.0,391.4 L644.5,391.4 L645.1,391.4 L645.6,391.4 L646.1,391.4 L646.7,391.4 L647.2,391.4 L647.8,391.4 L648.3,391.4 L648.8,391.4 L649.4,391.4 L649.9,391.4 L650.5,391.4 L651.0,391.4 L651.5,391.4 L652.1,391.4 L652.6,391.4 L653.2,391.4 L653.7,391.4 L654.2,391.4 L654.8,391.4 L655.3,391.4 L655.9,391.4 L656.4,391.4 L656.9,391.4 L657.5,391.4 L658.0,391.4 L658.6,391.4 L659.1,391.4 L659.6,391.4 L660.2,391.4 L660.7,391.4 L661.3,391.4 L661.8,391.4 L662.3,391.4 L662.9,391.4 L663.4,391.4 L664.0,391.4 L664.5,391.4 L665.0,391.4 L665.6,391.4 L666.1,391.4 L666.7,391.4 L667.2,391.4 L667.7,391.4 L668.3,391.4 L668.8,391.4 L669.4,391.4 L669.9,391.4 L670.4,391.4 L671.0,391.4 L671.5,391.4 L672.1,391.4 L672.6,391.4 L673.1,391.4 L673.7,391.4 L674.2,391.4 L674.8,391.4 L675.3,391.4 L675.8,391.4 L676.4,391.4 L676.9,391.4 L677.5,391.4 L678.0,391.4 L678.5,391.4 L679.1,391.4 L679.6,391.4 L680.2,391.4 L680.7,391.4 L681.2,391.4 L681.8,391.4 L682.3,391.4 L682.9,391.4 L683.4,391.4 L683.9,391.4 L684.5,391.4 L685.0,391.4 L685.6,391.4 L686.1,391.4 L686.6,391.4 L687.2,391.4 L687.7,391.4 L688.3,391.4 L688.8,391.4 L689.3,391.4 L689.9,391.4 L690.4,391.4 L691.0,391.4 L691.5,391.4 L692.0,391.4 L692.6,391.4 L693.1,391.4 L693.7,391.4 L694.2,391.4 L694.7,391.4 L695.3,391.4 L695.8,391.4 L696.4,391.4 L696.9,391.4 L697.4,391.4 L698.0,391.4 L698.5,391.4 L699.1,391.4 L699.6,391.4 L700.1,391.4 L700.7,391.4 L701.2,391.4 L701.8,391.4 L702.3,391.4 L702.8,391.4 L703.4,391.4 L703.9,391.4 L704.5,391.4 L705.0,391.4 L705.5,391.4 L706.1,391.4 L706.6,391.4 L707.2,391.4 L707.7,391.4 L708.2,391.4 L708.8,391.4 L709.3,391.4 L709.9,391.4 L710.4,391.4 L710.9,391.4 L711.5,391.4 L712.0,391.4 L712.6,391.4 L713.1,391.4 L713.6,391.4 L714.2,391.4 L714.7,391.4 L715.3,391.4 L715.8,391.4 L716.3,391.4 L716.9,391.4 L717.4,391.4 L718.0,391.4 L718.5,391.4 L719.0,391.4 L719.6,391.4 L720.1,391.4 L720.7,391.4 L721.2,391.4 L721.7,391.4 L722.3,391.4 L722.8,391.4 L723.4,391.4 L723.9,391.4 L724.4,391.4 L725.0,391.4 L725.5,391.4 L726.1,391.4 L726.6,391.4 L727.1,391.4 L727.7,391.4 L728.2,391.4 L728.8,391.4 L729.3,391.4 L729.8,391.4 L730.4,391.4 L730.9,391.4 L731.5,391.4 L732.0,391.4 L732.5,391.4 L733.1,391.4 L733.6,391.4 L734.2,391.4 L734.7,391.4 L735.2,391.4 L735.8,391.4 L736.3,391.4 L736.9,391.4 L737.4,391.4 L737.9,391.4 L738.5,391.4 L739.0,391.4 L739.6,391.4 L740.1,391.4 L740.6,391.4 L741.2,391.4 L741.7,391.4 L742.3,391.4 L742.8,391.4 L743.3,391.4 L743.9,391.4 L744.4,391.4 L745.0,391.4 L745.5,391.4 L746.0,391.4 L746.6,391.4 L747.1,391.4 L747.7,391.4 L748.2,391.4 L748.7,391.4 L749.3,391.4 L749.8,391.4 L750.4,391.4 L750.9,391.4 L751.4,391.4 L752.0,391.4 L752.5,391.4 L753.1,391.4 L753.6,391.4" stroke="#111" stroke-width="1.2" fill="none"/>
<path d="M483.6,391.4 L484.1,391.4 L484.7,391.4 L485.2,391.4 L485.8,391.4 L486.3,391.4 L486.8,391.4 L487.4,391.4 L487.9,391.4 L488.5,391.4 L489.0,391.4 L489.5,391.4 L490.1,391.4 L490.6,391.4 L491.2,391.4 L491.7,391.4 L492.2,391.4 L492.8,391.4 L493.3,391.4 L493.9,391.4 L494.4,391.4 L494.9,391.4 L495.5,391.4 L496.0,391.4 L496.6,391.4 L497.1,391.4 L497.6,391.4 L498.2,391.4 L498.7,391.4 L499.3,391.4 L499.8,391.4 L500.3,391.3 L500.9,391.3 L501.4,391.3 L502.0,391.3 L502.5,391.3 L503.0,391.3 L503.6,391.2 L504.1,391.1 L504.7,390.9 L505.2,390.6 L505.7,390.1 L506.3,389.5 L506.8,388.6 L507.4,387.1 L507.9,384.8 L508.4,381.7 L509.0,377.8 L509.5,373.6 L510.1,369.1 L510.6,364.7 L511.1,360.5 L511.7,356.7 L512.2,353.4 L512.8,350.8 L513.3,348.6 L513.8,347.0 L514.4,345.7 L514.9,344.7 L515.5,343.9 L516.0,343.1 L516.5,342.5 L517.1,341.9 L517.6,341.3 L518.2,340.7 L518.7,340.1 L519.2,339.4 L519.8,338.8 L520.3,338.1 L520.9,337.3 L521.4,336.6 L521.9,335.9 L522.5,335.2 L523.0,334.4 L523.6,333.7 L524.1,333.0 L524.6,332.3 L525.2,331.5 L525.7,330.8 L526.3,330.1 L526.8,329.4 L527.3,328.6 L527.9,327.9 L528.4,327.2 L529.0,326.5 L529.5,325.7 L530.0,325.0 L530.6,324.3 L531.1,323.5 L531.7,322.7 L532.2,321.9 L532.7,321.1 L533.3,320.3 L533.8,319.5 L534.4,318.8 L534.9,318.2 L535.4,317.6 L536.0,317.1 L536.5,316.6 L537.1,316.2 L537.6,315.8 L538.1,315.4 L538.7,315.1 L539.2,314.9 L539.8,314.7 L540.3,314.7 L540.8,314.7 L541.4,314.8 L541.9,315.0 L542.5,315.3 L543.0,315.6 L543.5,316.0 L544.1,316.4 L544.6,316.8 L545.2,317.3 L545.7,317.9 L546.2,318.5 L546.8,319.3 L547.3,320.1 L547.9,321.0 L548.4,321.9 L548.9,322.9 L549.5,323.9 L550.0,324.9 L550.6,326.0 L551.1,327.1 L551.6,328.3 L552.2,329.6 L552.7,330.9 L553.3,332.2 L553.8,333.6 L554.3,335.0 L554.9,336.5 L555.4,338.0 L556.0,339.5 L556.5,341.1 L557.0,342.8 L557.6,344.5 L558.1,346.2 L558.7,348.0 L559.2,349.8 L559.7,351.7 L560.3,353.6 L560.8,355.6 L561.4,357.6 L561.9,359.7 L562.4,361.8 L563.0,364.0 L563.5,366.2 L564.1,368.6 L564.6,370.9 L565.1,373.4 L565.7,376.0 L566.2,378.6 L566.8,381.1 L567.3,383.5 L567.8,385.7 L568.4,387.7 L568.9,389.7 L569.5,391.5 L570.0,393.3 L570.5,395.0 L571.1,396.8 L571.6,398.6 L572.2,400.5 L572.7,402.4 L573.2,404.6 L573.8,406.8 L574.3,409.2 L574.9,411.6 L575.4,414.1 L575.9,416.6 L576.5,419.1 L577.0,421.6 L577.6,423.9 L578.1,426.1 L578.6,428.3 L579.2,430.3 L579.7,432.3 L580.3,434.2 L580.8,436.1 L581.3,437.9 L581.9,439.7 L582.4,441.5 L583.0,443.2 L583.5,444.9 L584.0,446.5 L584.6,448.1 L585.1,449.7 L585.7,451.4 L586.2,453.0 L586.7,454.6 L587.3,456.2 L587.8,457.7 L588.4,459.1 L588.9,460.5 L589.4,461.7 L590.0,462.8 L590.5,463.7 L591.1,464.5 L591.6,465.2 L592.1,465.9 L592.7,466.5 L593.2,467.1 L593.8,467.7 L594.3,468.2 L594.8,468.6 L595.4,469.0 L595.9,469.3 L596.5,469.4 L597.0,469.5 L597.5,469.5 L598.1,469.3 L598.6,469.0 L599.2,468.6 L599.7,468.1 L600.2,467.5 L600.8,466.9 L601.3,466.1 L601.9,465.3 L602.4,464.5 L602.9,463.5 L603.5,462.4 L604.0,461.2 L604.6,459.6 L605.1,457.8 L605.6,455.8 L606.2,453.6 L606.7,451.3 L607.3,449.0 L607.8,446.7 L608.3,444.5 L608.9,442.5 L609.4,440.5 L610.0,438.5 L610.5,436.7 L611.0,435.0 L611.6,433.6 L612.1,432.3 L612.7,431.3 L613.2,430.5 L613.7,430.2 L614.3,430.2 L614.8,430.9 L615.4,432.0 L615.9,433.3 L616.4,434.7 L617.0,436.1 L617.5,437.2 L618.1,438.0 L618.6,438.3 L619.1,437.9 L619.7,436.9 L620.2,435.5 L620.8,433.8 L621.3,432.0 L621.8,430.1 L622.4,428.2 L622.9,426.3 L623.5,424.4 L624.0,422.6 L624.5,420.8 L625.1,419.1 L625.6,417.5 L626.2,416.0 L626.7,414.5 L627.2,413.2 L627.8,412.0 L628.3,410.8 L628.9,409.7 L629.4,408.7 L629.9,407.7 L630.5,406.8 L631.0,405.9 L631.6,405.0 L632.1,404.2 L632.6,403.5 L633.2,402.8 L633.7,402.1 L634.3,401.4 L634.8,400.7 L635.3,400.0 L635.9,399.4 L636.4,398.8 L637.0,398.2 L637.5,397.7 L638.0,397.2 L638.6,396.8 L639.1,396.4 L639.7,396.0 L640.2,395.7 L640.7,395.5 L641.3,395.3 L641.8,395.1 L642.4,394.9 L642.9,394.7 L643.4,394.6 L644.0,394.4 L644.5,394.3 L645.1,394.1 L645.6,394.0 L646.1,393.9 L646.7,393.8 L647.2,393.7 L647.8,393.5 L648.3,393.4 L648.8,393.3 L649.4,393.2 L649.9,393.1 L650.5,393.0 L651.0,392.8 L651.5,392.7 L652.1,392.6 L652.6,392.5 L653.2,392.4 L653.7,392.3 L654.2,392.2 L654.8,392.1 L655.3,392.0 L655.9,392.0 L656.4,391.9 L656.9,391.8 L657.5,391.8 L658.0,391.7 L658.6,391.7 L659.1,391.7 L659.6,391.6 L660.2,391.6 L660.7,391.5 L661.3,391.5 L661.8,391.5 L662.3,391.5 L662.9,391.4 L663.4,391.4 L664.0,391.4 L664.5,391.4 L665.0,391.4 L665.6,391.4 L666.1,391.4 L666.7,391.4 L667.2,391.4 L667.7,391.4 L668.3,391.4 L668.8,391.4 L669.4,391.4 L669.9,391.4 L670.4,391.4 L671.0,391.4 L671.5,391.4 L672.1,391.4 L672.6,391.4 L673.1,391.4 L673.7,391.4 L674.2,391.4 L674.8,391.4 L675.3,391.4 L675.8,391.4 L676.4,391.4 L676.9,391.4 L677.5,391.4 L678.0,391.4 L678.5,391.4 L679.1,391.4 L679.6,391.4 L680.2,391.4 L680.7,391.4 L681.2,391.4 L681.8,391.4 L682.3,391.4 L682.9,391.4 L683.4,391.4 L683.9,391.4 L684.5,391.4 L685.0,391.4 L685.6,391.4 L686.1,391.4 L686.6,391.4 L687.2,391.4 L687.7,391.4 L688.3,391.4 L688.8,391.4 L689.3,391.4 L689.9,391.4 L690.4,391.4 L691.0,391.4 L691.5,391.4 L692.0,391.4 L692.6,391.4 L693.1,391.4 L693.7,391.4 L694.2,391.4 L694.7,391.4 L695.3,391.4 L695.8,391.4 L696.4,391.4 L696.9,391.4 L697.4,391.4 L698.0,391.4 L698.5,391.4 L699.1,391.4 L699.6,391.4 L700.1,391.4 L700.7,391.4 L701.2,391.4 L701.8,391.4 L702.3,391.4 L702.8,391.4 L703.4,391.4 L703.9,391.4 L704.5,391.4 L705.0,391.4 L705.5,391.4 L706.1,391.4 L706.6,391.4 L707.2,391.4 L707.7,391.4 L708.2,391.4 L708.8,391.4 L709.3,391.4 L709.9,391.4 L710.4,391.4 L710.9,391.4 L711.5,391.4 L712.0,391.4 L712.6,391.4 L713.1,391.4 L713.6,391.4 L714.2,391.4 L714.7,391.4 L715.3,391.4 L715.8,391.4 L716.3,391.4 L716.9,391.4 L717.4,391.4 L718.0,391.4 L718.5,391.4 L719.0,391.4 L719.6,391.4 L720.1,391.4 L720.7,391.4 L721.2,391.4 L721.7,391.4 L722.3,391.4 L722.8,391.4 L723.4,391.4 L723.9,391.4 L724.4,391.4 L725.0,391.4 L725.5,391.4 L726.1,391.4 L726.6,391.4 L727.1,391.4 L727.7,391.4 L728.2,391.4 L728.8,391.4 L729.3,391.4 L729.8,391.4 L730.4,391.4 L730.9,391.4 L731.5,391.4 L732.0,391.4 L732.5,391.4 L733.1,391.4 L733.6,391.4 L734.2,391.4 L734.7,391.4 L735.2,391.4 L735.8,391.4 L736.3,391.4 L736.9,391.4 L737.4,391.4 L737.9,391.4 L738.5,391.4 L739.0,391.4 L739.6,391.4 L740.1,391.4 L740.6,391.4 L741.2,391.4 L741.7,391.4 L742.3,391.4 L742.8,391.4 L743.3,391.4 L743.9,391.4 L744.4,391.4 L745.0,391.4 L745.5,391.4 L746.0,391.4 L746.6,391.4 L747.1,391.4 L747.7,391.4 L748.2,391.4 L748.7,391.4 L749.3,391.4 L749.8,391.4 L750.4,391.4 L750.9,391.4 L751.4,391.4 L752.0,391.4 L752.5,391.4 L753.1,391.4 L753.6,391.4" stroke="#ff1a1a" stroke-width="1.2" fill="none" stroke-dasharray="3.3,1.1,1.0,1.1"/>
<path d="M483.6,391.4 L484.1,391.4 L484.7,391.4 L485.2,391.4 L485.8,391.4 L486.3,391.4 L486.8,391.4 L487.4,391.4 L487.9,391.4 L488.5,391.4 L489.0,391.4 L489.5,391.4 L490.1,391.4 L490.6,391.4 L491.2,391.4 L491.7,391.4 L492.2,391.4 L492.8,391.4 L493.3,391.4 L493.9,391.4 L494.4,391.4 L494.9,391.4 L495.5,391.4 L496.0,391.4 L496.6,391.4 L497.1,391.4 L497.6,391.4 L498.2,391.3 L498.7,391.3 L499.3,391.3 L499.8,391.3 L500.3,391.3 L500.9,391.2 L501.4,391.1 L502.0,390.8 L502.5,390.4 L503.0,389.9 L503.6,389.2 L504.1,388.3 L504.7,387.1 L505.2,385.5 L505.7,383.4 L506.3,380.8 L506.8,377.7 L507.4,374.1 L507.9,369.7 L508.4,364.5 L509.0,358.8 L509.5,353.1 L510.1,347.3 L510.6,341.5 L511.1,335.8 L511.7,330.1 L512.2,324.8 L512.8,319.9 L513.3,315.7 L513.8,312.1 L514.4,309.2 L514.9,306.9 L515.5,305.2 L516.0,303.9 L516.5,302.8 L517.1,302.0 L517.6,301.5 L518.2,301.1 L518.7,300.8 L519.2,300.7 L519.8,300.6 L520.3,300.5 L520.9,300.6 L521.4,300.9 L521.9,301.2 L522.5,301.7 L523.0,302.2 L523.6,302.7 L524.1,303.3 L524.6,303.9 L525.2,304.6 L525.7,305.4 L526.3,306.2 L526.8,307.0 L527.3,307.8 L527.9,308.7 L528.4,309.6 L529.0,310.6 L529.5,311.6 L530.0,312.6 L530.6,313.7 L531.1,314.8 L531.7,315.9 L532.2,317.1 L532.7,318.3 L533.3,319.5 L533.8,320.8 L534.4,322.2 L534.9,323.6 L535.4,325.0 L536.0,326.4 L536.5,327.8 L537.1,329.2 L537.6,330.6 L538.1,331.9 L538.7,333.3 L539.2,334.5 L539.8,335.8 L540.3,337.1 L540.8,338.3 L541.4,339.5 L541.9,340.8 L542.5,342.0 L543.0,343.2 L543.5,344.3 L544.1,345.5 L544.6,346.7 L545.2,347.8 L545.7,349.0 L546.2,350.1 L546.8,351.2 L547.3,352.4 L547.9,353.5 L548.4,354.6 L548.9,355.7 L549.5,356.8 L550.0,357.9 L550.6,359.1 L551.1,360.2 L551.6,361.3 L552.2,362.4 L552.7,363.6 L553.3,364.7 L553.8,365.9 L554.3,367.0 L554.9,368.2 L555.4,369.3 L556.0,370.5 L556.5,371.8 L557.0,373.1 L557.6,374.4 L558.1,375.8 L558.7,377.1 L559.2,378.5 L559.7,379.8 L560.3,381.0 L560.8,382.1 L561.4,383.1 L561.9,384.0 L562.4,384.9 L563.0,385.7 L563.5,386.5 L564.1,387.4 L564.6,388.3 L565.1,389.2 L565.7,390.3 L566.2,391.3 L566.8,392.5 L567.3,393.7 L567.8,394.9 L568.4,396.1 L568.9,397.4 L569.5,398.8 L570.0,400.2 L570.5,401.6 L571.1,403.0 L571.6,404.5 L572.2,406.1 L572.7,407.7 L573.2,409.4 L573.8,411.2 L574.3,413.0 L574.9,414.9 L575.4,416.7 L575.9,418.6 L576.5,420.5 L577.0,422.3 L577.6,424.1 L578.1,425.9 L578.6,427.6 L579.2,429.3 L579.7,430.9 L580.3,432.4 L580.8,433.9 L581.3,435.3 L581.9,436.8 L582.4,438.2 L583.0,439.6 L583.5,440.8 L584.0,442.0 L584.6,443.1 L585.1,444.0 L585.7,444.8 L586.2,445.5 L586.7,446.1 L587.3,446.7 L587.8,447.3 L588.4,447.8 L588.9,448.3 L589.4,448.6 L590.0,448.9 L590.5,449.1 L591.1,449.1 L591.6,449.0 L592.1,448.8 L592.7,448.5 L593.2,448.1 L593.8,447.6 L594.3,447.0 L594.8,446.4 L595.4,445.8 L595.9,445.1 L596.5,444.4 L597.0,443.6 L597.5,442.7 L598.1,441.6 L598.6,440.5 L599.2,439.2 L599.7,437.9 L600.2,436.4 L600.8,434.8 L601.3,433.2 L601.9,431.3 L602.4,429.2 L602.9,426.8 L603.5,424.2 L604.0,421.3 L604.6,418.4 L605.1,415.4 L605.6,412.6 L606.2,410.1 L606.7,407.7 L607.3,405.6 L607.8,403.6 L608.3,401.8 L608.9,400.2 L609.4,398.9 L610.0,397.8 L610.5,397.0 L611.0,396.3 L611.6,395.7 L612.1,395.4 L612.7,395.5 L613.2,396.7 L613.7,399.4 L614.3,403.8 L614.8,409.1 L615.4,414.4 L615.9,419.1 L616.4,423.2 L617.0,427.0 L617.5,430.4 L618.1,433.3 L618.6,435.7 L619.1,437.4 L619.7,438.8 L620.2,439.9 L620.8,440.8 L621.3,441.5 L621.8,442.1 L622.4,442.6 L622.9,443.0 L623.5,443.4 L624.0,443.6 L624.5,443.8 L625.1,443.9 L625.6,443.8 L626.2,443.6 L626.7,443.3 L627.2,442.9 L627.8,442.5 L628.3,442.0 L628.9,441.5 L629.4,440.9 L629.9,440.4 L630.5,439.9 L631.0,439.3 L631.6,438.7 L632.1,438.1 L632.6,437.4 L633.2,436.8 L633.7,436.1 L634.3,435.3 L634.8,434.6 L635.3,433.9 L635.9,433.1 L636.4,432.3 L637.0,431.5 L637.5,430.7 L638.0,429.8 L638.6,429.0 L639.1,428.1 L639.7,427.2 L640.2,426.3 L640.7,425.4 L641.3,424.5 L641.8,423.6 L642.4,422.7 L642.9,421.8 L643.4,420.9 L644.0,420.1 L644.5,419.2 L645.1,418.3 L645.6,417.5 L646.1,416.6 L646.7,415.8 L647.2,414.9 L647.8,414.1 L648.3,413.2 L648.8,412.4 L649.4,411.5 L649.9,410.7 L650.5,409.8 L651.0,409.0 L651.5,408.1 L652.1,407.3 L652.6,406.4 L653.2,405.6 L653.7,404.8 L654.2,404.0 L654.8,403.2 L655.3,402.5 L655.9,401.8 L656.4,401.1 L656.9,400.4 L657.5,399.8 L658.0,399.2 L658.6,398.6 L659.1,398.0 L659.6,397.5 L660.2,396.9 L660.7,396.5 L661.3,396.0 L661.8,395.6 L662.3,395.3 L662.9,394.9 L663.4,394.6 L664.0,394.2 L664.5,393.9 L665.0,393.7 L665.6,393.4 L666.1,393.2 L666.7,392.9 L667.2,392.8 L667.7,392.6 L668.3,392.4 L668.8,392.3 L669.4,392.1 L669.9,392.0 L670.4,391.8 L671.0,391.7 L671.5,391.6 L672.1,391.5 L672.6,391.4 L673.1,391.4 L673.7,391.4 L674.2,391.4 L674.8,391.4 L675.3,391.4 L675.8,391.4 L676.4,391.4 L676.9,391.4 L677.5,391.4 L678.0,391.4 L678.5,391.4 L679.1,391.4 L679.6,391.4 L680.2,391.4 L680.7,391.4 L681.2,391.4 L681.8,391.4 L682.3,391.4 L682.9,391.4 L683.4,391.4 L683.9,391.4 L684.5,391.4 L685.0,391.4 L685.6,391.4 L686.1,391.4 L686.6,391.4 L687.2,391.4 L687.7,391.4 L688.3,391.4 L688.8,391.4 L689.3,391.4 L689.9,391.4 L690.4,391.4 L691.0,391.4 L691.5,391.4 L692.0,391.4 L692.6,391.4 L693.1,391.4 L693.7,391.4 L694.2,391.4 L694.7,391.4 L695.3,391.4 L695.8,391.4 L696.4,391.4 L696.9,391.4 L697.4,391.4 L698.0,391.4 L698.5,391.4 L699.1,391.4 L699.6,391.4 L700.1,391.4 L700.7,391.4 L701.2,391.4 L701.8,391.4 L702.3,391.4 L702.8,391.4 L703.4,391.4 L703.9,391.4 L704.5,391.4 L705.0,391.4 L705.5,391.4 L706.1,391.4 L706.6,391.4 L707.2,391.4 L707.7,391.4 L708.2,391.4 L708.8,391.4 L709.3,391.4 L709.9,391.4 L710.4,391.4 L710.9,391.4 L711.5,391.4 L712.0,391.4 L712.6,391.4 L713.1,391.4 L713.6,391.4 L714.2,391.4 L714.7,391.4 L715.3,391.4 L715.8,391.4 L716.3,391.4 L716.9,391.4 L717.4,391.4 L718.0,391.4 L718.5,391.4 L719.0,391.4 L719.6,391.4 L720.1,391.4 L720.7,391.4 L721.2,391.4 L721.7,391.4 L722.3,391.4 L722.8,391.4 L723.4,391.4 L723.9,391.4 L724.4,391.4 L725.0,391.4 L725.5,391.4 L726.1,391.4 L726.6,391.4 L727.1,391.4 L727.7,391.4 L728.2,391.4 L728.8,391.4 L729.3,391.4 L729.8,391.4 L730.4,391.4 L730.9,391.4 L731.5,391.4 L732.0,391.4 L732.5,391.4 L733.1,391.4 L733.6,391.4 L734.2,391.4 L734.7,391.4 L735.2,391.4 L735.8,391.4 L736.3,391.4 L736.9,391.4 L737.4,391.4 L737.9,391.4 L738.5,391.4 L739.0,391.4 L739.6,391.4 L740.1,391.4 L740.6,391.4 L741.2,391.4 L741.7,391.4 L742.3,391.4 L742.8,391.4 L743.3,391.4 L743.9,391.4 L744.4,391.4 L745.0,391.4 L745.5,391.4 L746.0,391.4 L746.6,391.4 L747.1,391.4 L747.7,391.4 L748.2,391.4 L748.7,391.4 L749.3,391.4 L749.8,391.4 L750.4,391.4 L750.9,391.4 L751.4,391.4 L752.0,391.4 L752.5,391.4 L753.1,391.4 L753.6,391.4" stroke="#1a1aff" stroke-width="1.3" fill="none" stroke-dasharray="4.4,4.0"/>
<path d="M483.60,500.10v-4M551.10,500.10v-4M618.60,500.10v-4M686.10,500.10v-4M753.60,500.10v-4M517.35,500.10v-2.2M584.85,500.10v-2.2M652.35,500.10v-2.2M719.85,500.10v-2.2M483.60,478.35h4M483.60,434.85h4M483.60,391.35h4M483.60,347.85h4M483.60,304.35h4M483.60,499.88h2.2M483.60,456.60h2.2M483.60,413.10h2.2M483.60,369.60h2.2M483.60,326.10h2.2M483.60,282.82h2.2" stroke="#333" stroke-width="1.1" fill="none"/>
<rect x="483.60" y="282.60" width="270.00" height="217.50" stroke="#333" stroke-width="1.15" fill="none"/>
<text x="483.60" y="512.90" font-size="10" text-anchor="middle" >0</text>
<text x="551.10" y="512.90" font-size="10" text-anchor="middle" >50</text>
<text x="618.60" y="512.90" font-size="10" text-anchor="middle" >100</text>
<text x="686.10" y="512.90" font-size="10" text-anchor="middle" >150</text>
<text x="753.60" y="512.90" font-size="10" text-anchor="middle" >200</text>
<text x="478.60" y="481.25" font-size="10" text-anchor="end" >−0.004</text>
<text x="478.60" y="437.75" font-size="10" text-anchor="end" >−0.002</text>
<text x="478.60" y="394.25" font-size="10" text-anchor="end" >0.000</text>
<text x="478.60" y="350.75" font-size="10" text-anchor="end" >0.002</text>
<text x="478.60" y="307.25" font-size="10" text-anchor="end" >0.004</text>
<rect x="651.40" y="309.40" width="67.10" height="39.10" fill="#fff" stroke="#777" stroke-width="1"/>
<path d="M652.40,316.50H675.20" stroke="#111" stroke-width="1.2" fill="none"/>
<text x="677.90" y="320.00" font-size="10" text-anchor="start" >40 km/h</text>
<path d="M652.40,329.20H675.20" stroke="#ff1a1a" stroke-width="1.2" fill="none" stroke-dasharray="3.3,1.1,1.0,1.1"/>
<text x="677.90" y="332.70" font-size="10" text-anchor="start" >80 km/h</text>
<path d="M652.40,341.70h21.6" stroke="#1a1aff" stroke-width="1.4" stroke-dasharray="4.4,4.2" fill="none"/>
<text x="677.90" y="345.20" font-size="10" text-anchor="start" >120 km/h</text>
<text x="172.50" y="251.30" font-size="10" text-anchor="middle" >X (m)</text>
<text x="618.30" y="251.50" font-size="10" text-anchor="middle" >X (m)</text>
<text x="181.20" y="528.70" font-size="10" text-anchor="middle" >X (m)</text>
<text x="618.70" y="528.50" font-size="10.9" text-anchor="middle" >X (m)</text>
<text transform="translate(21.8,117) rotate(-90)" font-size="10.3" text-anchor="middle">Y (m)</text>
<text transform="translate(451.6,113.4) rotate(-90)" font-size="11.2" text-anchor="middle">Φ(rad)</text>
<text transform="translate(12.6,385.7) rotate(-90)" font-size="12" text-anchor="middle">error<tspan font-size="8" dy="2.2">Y</tspan><tspan font-size="10.8" dy="-2.2"> (m)</tspan></text>
<text transform="translate(448.4,389.1) rotate(-90)" font-size="10" text-anchor="middle">error<tspan font-size="7" dy="2">Φ</tspan><tspan dy="-2"> (rad)</tspan></text>
<text x="165.00" y="273.20" font-size="16.5" text-anchor="middle">(<tspan font-weight="bold">a</tspan>)</text>
<text x="601.30" y="273.20" font-size="16.5" text-anchor="middle">(<tspan font-weight="bold">b</tspan>)</text>
<text x="165.00" y="550.80" font-size="16.5" text-anchor="middle">(<tspan font-weight="bold">c</tspan>)</text>
<text x="601.10" y="550.60" font-size="16.5" text-anchor="middle">(<tspan font-weight="bold">d</tspan>)</text>
</svg>
</body></html>
